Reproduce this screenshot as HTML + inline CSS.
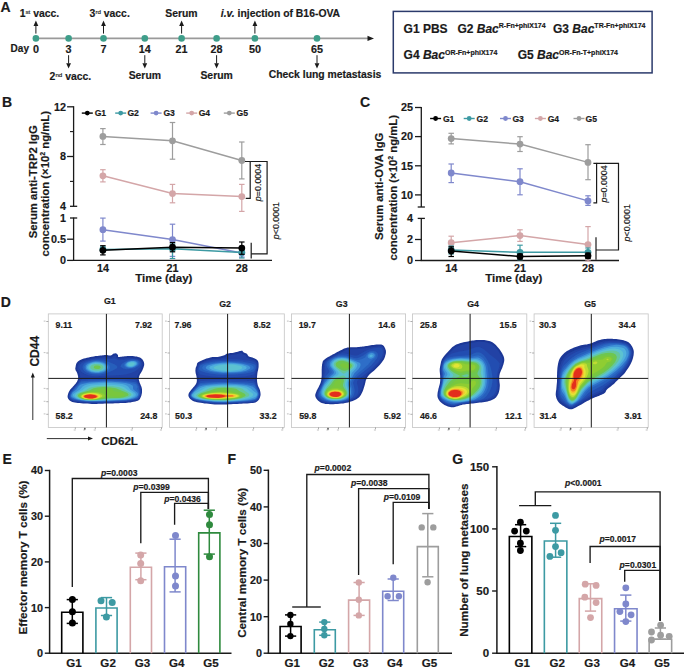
<!DOCTYPE html>
<html><head><meta charset="utf-8"><style>
html,body{margin:0;padding:0;background:#fff;}
svg{display:block;}
text{font-family:"Liberation Sans",sans-serif;font-weight:bold;fill:#1a1a1a;stroke:#1a1a1a;stroke-width:0.18px;}
</style></head><body>
<svg width="685" height="669" viewBox="0 0 685 669">
<defs><filter id="bl" x="-10%" y="-10%" width="120%" height="120%"><feGaussianBlur stdDeviation="0.55"/></filter></defs>
<rect width="685" height="669" fill="#fff"/>
<text x="0.60" y="11.50" font-size="14" text-anchor="start" >A</text>
<line x1="35.90" y1="38.40" x2="369.00" y2="38.40" stroke="#9a9a9a" stroke-width="1.6" />
<polygon points="374.00,38.40 367.50,35.80 367.50,41.00" fill="#1a1a1a"/>
<circle cx="35.90" cy="38.40" r="3.3" fill="#3e9e8a"/>
<text x="35.90" y="53.20" font-size="10.8" text-anchor="middle" >0</text>
<circle cx="68.60" cy="38.40" r="3.3" fill="#3e9e8a"/>
<text x="68.60" y="53.20" font-size="10.8" text-anchor="middle" >3</text>
<circle cx="103.50" cy="38.40" r="3.3" fill="#3e9e8a"/>
<text x="103.50" y="53.20" font-size="10.8" text-anchor="middle" >7</text>
<circle cx="144.80" cy="38.40" r="3.3" fill="#3e9e8a"/>
<text x="144.80" y="53.20" font-size="10.8" text-anchor="middle" >14</text>
<circle cx="181.60" cy="38.40" r="3.3" fill="#3e9e8a"/>
<text x="181.60" y="53.20" font-size="10.8" text-anchor="middle" >21</text>
<circle cx="216.60" cy="38.40" r="3.3" fill="#3e9e8a"/>
<text x="216.60" y="53.20" font-size="10.8" text-anchor="middle" >28</text>
<circle cx="254.90" cy="38.40" r="3.3" fill="#3e9e8a"/>
<text x="254.90" y="53.20" font-size="10.8" text-anchor="middle" >50</text>
<circle cx="317.00" cy="38.40" r="3.3" fill="#3e9e8a"/>
<text x="317.00" y="53.20" font-size="10.8" text-anchor="middle" >65</text>
<text x="10.60" y="52.40" font-size="10" text-anchor="start" >Day</text>
<line x1="35.90" y1="33.60" x2="35.90" y2="25.00" stroke="#1a1a1a" stroke-width="1.0" />
<polygon points="35.90,20.60 33.50,26.00 38.30,26.00" fill="#1a1a1a"/>
<line x1="68.60" y1="55.20" x2="68.60" y2="63.50" stroke="#1a1a1a" stroke-width="1.0" />
<polygon points="68.60,68.60 66.20,63.20 71.00,63.20" fill="#1a1a1a"/>
<line x1="103.50" y1="33.60" x2="103.50" y2="25.00" stroke="#1a1a1a" stroke-width="1.0" />
<polygon points="103.50,20.60 101.10,26.00 105.90,26.00" fill="#1a1a1a"/>
<line x1="144.80" y1="55.20" x2="144.80" y2="63.50" stroke="#1a1a1a" stroke-width="1.0" />
<polygon points="144.80,68.60 142.40,63.20 147.20,63.20" fill="#1a1a1a"/>
<line x1="181.60" y1="33.60" x2="181.60" y2="25.00" stroke="#1a1a1a" stroke-width="1.0" />
<polygon points="181.60,20.60 179.20,26.00 184.00,26.00" fill="#1a1a1a"/>
<line x1="216.60" y1="55.20" x2="216.60" y2="63.50" stroke="#1a1a1a" stroke-width="1.0" />
<polygon points="216.60,68.60 214.20,63.20 219.00,63.20" fill="#1a1a1a"/>
<line x1="254.90" y1="33.60" x2="254.90" y2="25.00" stroke="#1a1a1a" stroke-width="1.0" />
<polygon points="254.90,20.60 252.50,26.00 257.30,26.00" fill="#1a1a1a"/>
<line x1="317.00" y1="55.20" x2="317.00" y2="63.50" stroke="#1a1a1a" stroke-width="1.0" />
<polygon points="317.00,68.60 314.60,63.20 319.40,63.20" fill="#1a1a1a"/>
<text x="19.70" y="17.30" font-size="10.4" text-anchor="start" >1<tspan font-size="6.2" dy="-2.9" style="font-weight:normal">st</tspan><tspan dy="2.9"> vacc.</tspan></text>
<text x="89.60" y="17.30" font-size="10.4" text-anchor="start" >3<tspan font-size="6.2" dy="-2.9" style="font-weight:normal">rd</tspan><tspan dy="2.9"> vacc.</tspan></text>
<text x="181.40" y="17.30" font-size="10.4" text-anchor="middle" >Serum</text>
<text x="220.80" y="17.20" font-size="10.4" text-anchor="start" ><tspan font-style="italic">i.v.</tspan> injection of B16-OVA</text>
<text x="49.60" y="79.50" font-size="10.4" text-anchor="start" >2<tspan font-size="6.2" dy="-2.9" style="font-weight:normal">nd</tspan><tspan dy="2.9"> vacc.</tspan></text>
<text x="144.80" y="79.00" font-size="10.4" text-anchor="middle" >Serum</text>
<text x="216.60" y="79.00" font-size="10.4" text-anchor="middle" >Serum</text>
<text x="325.00" y="78.00" font-size="10.4" text-anchor="middle" >Check lung metastasis</text>
<rect x="393.30" y="11.40" width="258.80" height="61.50" stroke="#2b3a6b" stroke-width="1.5" fill="none"/>
<text x="403.60" y="32.80" font-size="12" text-anchor="start" >G1 PBS</text>
<text x="457.40" y="32.80" font-size="12" text-anchor="start" >G2 <tspan font-style="italic">Bac</tspan><tspan font-size="7.0" dy="-4.6">R-Fn+phiX174</tspan></text>
<text x="553.00" y="32.80" font-size="12" text-anchor="start" >G3 <tspan font-style="italic">Bac</tspan><tspan font-size="7.0" dy="-4.6">TR-Fn+phiX174</tspan></text>
<text x="403.60" y="59.10" font-size="12" text-anchor="start" >G4 <tspan font-style="italic">Bac</tspan><tspan font-size="7.0" dy="-4.6">OR-Fn+phiX174</tspan></text>
<text x="517.70" y="59.10" font-size="12" text-anchor="start" >G5 <tspan font-style="italic">Bac</tspan><tspan font-size="7.0" dy="-4.6">OR-Fn-T+phiX174</tspan></text>
<text x="2.00" y="107.30" font-size="14" text-anchor="start" >B</text>
<line x1="73.60" y1="106.20" x2="73.60" y2="206.30" stroke="#1a1a1a" stroke-width="1.3" />
<line x1="73.60" y1="217.60" x2="73.60" y2="261.00" stroke="#1a1a1a" stroke-width="1.3" />
<line x1="73.00" y1="260.40" x2="272.00" y2="260.40" stroke="#1a1a1a" stroke-width="1.3" />
<line x1="67.10" y1="106.80" x2="73.60" y2="106.80" stroke="#1a1a1a" stroke-width="1.3" />
<text x="66.00" y="110.60" font-size="10.8" text-anchor="end" >12</text>
<line x1="67.10" y1="156.50" x2="73.60" y2="156.50" stroke="#1a1a1a" stroke-width="1.3" />
<text x="66.00" y="160.30" font-size="10.8" text-anchor="end" >8</text>
<line x1="70.00" y1="206.30" x2="77.20" y2="206.30" stroke="#1a1a1a" stroke-width="1.3" />
<text x="66.00" y="210.10" font-size="10.8" text-anchor="end" >4</text>
<line x1="70.00" y1="218.00" x2="77.20" y2="218.00" stroke="#1a1a1a" stroke-width="1.3" />
<text x="66.00" y="221.80" font-size="10.8" text-anchor="end" >1</text>
<line x1="67.10" y1="239.20" x2="73.60" y2="239.20" stroke="#1a1a1a" stroke-width="1.3" />
<text x="66.00" y="243.00" font-size="10.8" text-anchor="end" >0.5</text>
<line x1="67.10" y1="260.40" x2="73.60" y2="260.40" stroke="#1a1a1a" stroke-width="1.3" />
<text x="66.00" y="264.20" font-size="10.8" text-anchor="end" >0</text>
<line x1="70.00" y1="131.60" x2="73.60" y2="131.60" stroke="#1a1a1a" stroke-width="1.1" />
<line x1="70.00" y1="181.40" x2="73.60" y2="181.40" stroke="#1a1a1a" stroke-width="1.1" />
<line x1="81.80" y1="113.10" x2="92.80" y2="113.10" stroke="#000000" stroke-width="1.4" />
<circle cx="87.30" cy="113.10" r="2.4" fill="#000000"/>
<text x="94.70" y="116.10" font-size="8.6" text-anchor="start" >G1</text>
<line x1="115.20" y1="113.10" x2="126.20" y2="113.10" stroke="#3d9aa3" stroke-width="1.4" />
<circle cx="120.70" cy="113.10" r="2.4" fill="#3d9aa3"/>
<text x="127.40" y="116.10" font-size="8.6" text-anchor="start" >G2</text>
<line x1="150.60" y1="113.10" x2="161.60" y2="113.10" stroke="#7f88cc" stroke-width="1.4" />
<circle cx="156.10" cy="113.10" r="2.4" fill="#7f88cc"/>
<text x="163.40" y="116.10" font-size="8.6" text-anchor="start" >G3</text>
<line x1="186.20" y1="113.10" x2="197.20" y2="113.10" stroke="#d4a6a8" stroke-width="1.4" />
<circle cx="191.70" cy="113.10" r="2.4" fill="#d4a6a8"/>
<text x="198.70" y="116.10" font-size="8.6" text-anchor="start" >G4</text>
<line x1="223.80" y1="113.10" x2="234.80" y2="113.10" stroke="#9d9d9d" stroke-width="1.4" />
<circle cx="229.30" cy="113.10" r="2.4" fill="#9d9d9d"/>
<text x="236.60" y="116.10" font-size="8.6" text-anchor="start" >G5</text>
<text x="102.90" y="271.60" font-size="10.8" text-anchor="middle" >14</text>
<text x="172.50" y="271.60" font-size="10.8" text-anchor="middle" >21</text>
<text x="241.80" y="271.60" font-size="10.8" text-anchor="middle" >28</text>
<text x="163.80" y="282.40" font-size="11.5" text-anchor="middle" >Time (day)</text>
<text x="37.40" y="181.80" font-size="11.3" text-anchor="middle" transform="rotate(-90 37.40 181.80)" >Serum anti-TRP2 IgG</text>
<text x="48.90" y="183.80" font-size="11.3" text-anchor="middle" transform="rotate(-90 48.90 183.80)" >concentration (×10<tspan font-size="7" dy="-4.2">2</tspan><tspan dy="4.2"> ng/mL)</tspan></text>
<path d="M102.90,136.40 L172.50,140.80 L241.80,160.50" stroke="#9d9d9d" stroke-width="1.5" fill="none" />
<line x1="102.90" y1="128.60" x2="102.90" y2="144.50" stroke="#9d9d9d" stroke-width="1.2" />
<line x1="100.15" y1="128.60" x2="105.65" y2="128.60" stroke="#9d9d9d" stroke-width="1.2" />
<line x1="100.15" y1="144.50" x2="105.65" y2="144.50" stroke="#9d9d9d" stroke-width="1.2" />
<line x1="172.50" y1="122.50" x2="172.50" y2="159.20" stroke="#9d9d9d" stroke-width="1.2" />
<line x1="169.75" y1="122.50" x2="175.25" y2="122.50" stroke="#9d9d9d" stroke-width="1.2" />
<line x1="169.75" y1="159.20" x2="175.25" y2="159.20" stroke="#9d9d9d" stroke-width="1.2" />
<line x1="241.80" y1="142.00" x2="241.80" y2="178.90" stroke="#9d9d9d" stroke-width="1.2" />
<line x1="239.05" y1="142.00" x2="244.55" y2="142.00" stroke="#9d9d9d" stroke-width="1.2" />
<line x1="239.05" y1="178.90" x2="244.55" y2="178.90" stroke="#9d9d9d" stroke-width="1.2" />
<circle cx="102.90" cy="136.40" r="3.4" fill="#9d9d9d"/>
<circle cx="172.50" cy="140.80" r="3.4" fill="#9d9d9d"/>
<circle cx="241.80" cy="160.50" r="3.4" fill="#9d9d9d"/>
<path d="M102.90,175.80 L172.50,193.60 L241.80,196.60" stroke="#d4a6a8" stroke-width="1.5" fill="none" />
<line x1="102.90" y1="169.70" x2="102.90" y2="181.90" stroke="#d4a6a8" stroke-width="1.2" />
<line x1="100.15" y1="169.70" x2="105.65" y2="169.70" stroke="#d4a6a8" stroke-width="1.2" />
<line x1="100.15" y1="181.90" x2="105.65" y2="181.90" stroke="#d4a6a8" stroke-width="1.2" />
<line x1="172.50" y1="184.40" x2="172.50" y2="202.80" stroke="#d4a6a8" stroke-width="1.2" />
<line x1="169.75" y1="184.40" x2="175.25" y2="184.40" stroke="#d4a6a8" stroke-width="1.2" />
<line x1="169.75" y1="202.80" x2="175.25" y2="202.80" stroke="#d4a6a8" stroke-width="1.2" />
<line x1="241.80" y1="184.40" x2="241.80" y2="211.40" stroke="#d4a6a8" stroke-width="1.2" />
<line x1="239.05" y1="184.40" x2="244.55" y2="184.40" stroke="#d4a6a8" stroke-width="1.2" />
<line x1="239.05" y1="211.40" x2="244.55" y2="211.40" stroke="#d4a6a8" stroke-width="1.2" />
<circle cx="102.90" cy="175.80" r="3.4" fill="#d4a6a8"/>
<circle cx="172.50" cy="193.60" r="3.4" fill="#d4a6a8"/>
<circle cx="241.80" cy="196.60" r="3.4" fill="#d4a6a8"/>
<path d="M102.90,229.70 L172.50,239.60 L241.80,253.00" stroke="#7f88cc" stroke-width="1.5" fill="none" />
<line x1="102.90" y1="218.10" x2="102.90" y2="241.10" stroke="#7f88cc" stroke-width="1.2" />
<line x1="100.15" y1="218.10" x2="105.65" y2="218.10" stroke="#7f88cc" stroke-width="1.2" />
<line x1="100.15" y1="241.10" x2="105.65" y2="241.10" stroke="#7f88cc" stroke-width="1.2" />
<line x1="172.50" y1="224.20" x2="172.50" y2="256.40" stroke="#7f88cc" stroke-width="1.2" />
<line x1="169.75" y1="224.20" x2="175.25" y2="224.20" stroke="#7f88cc" stroke-width="1.2" />
<line x1="169.75" y1="256.40" x2="175.25" y2="256.40" stroke="#7f88cc" stroke-width="1.2" />
<line x1="241.80" y1="249.00" x2="241.80" y2="257.00" stroke="#7f88cc" stroke-width="1.2" />
<line x1="239.05" y1="249.00" x2="244.55" y2="249.00" stroke="#7f88cc" stroke-width="1.2" />
<line x1="239.05" y1="257.00" x2="244.55" y2="257.00" stroke="#7f88cc" stroke-width="1.2" />
<circle cx="102.90" cy="229.70" r="3.4" fill="#7f88cc"/>
<circle cx="172.50" cy="239.60" r="3.4" fill="#7f88cc"/>
<circle cx="241.80" cy="253.00" r="3.4" fill="#7f88cc"/>
<path d="M102.90,249.40 L172.50,248.80 L241.80,252.40" stroke="#3d9aa3" stroke-width="1.5" fill="none" />
<line x1="102.90" y1="247.00" x2="102.90" y2="252.00" stroke="#3d9aa3" stroke-width="1.2" />
<line x1="100.15" y1="247.00" x2="105.65" y2="247.00" stroke="#3d9aa3" stroke-width="1.2" />
<line x1="100.15" y1="252.00" x2="105.65" y2="252.00" stroke="#3d9aa3" stroke-width="1.2" />
<line x1="172.50" y1="244.00" x2="172.50" y2="258.50" stroke="#3d9aa3" stroke-width="1.2" />
<line x1="169.75" y1="244.00" x2="175.25" y2="244.00" stroke="#3d9aa3" stroke-width="1.2" />
<line x1="169.75" y1="258.50" x2="175.25" y2="258.50" stroke="#3d9aa3" stroke-width="1.2" />
<line x1="241.80" y1="248.00" x2="241.80" y2="258.00" stroke="#3d9aa3" stroke-width="1.2" />
<line x1="239.05" y1="248.00" x2="244.55" y2="248.00" stroke="#3d9aa3" stroke-width="1.2" />
<line x1="239.05" y1="258.00" x2="244.55" y2="258.00" stroke="#3d9aa3" stroke-width="1.2" />
<circle cx="102.90" cy="249.40" r="3.4" fill="#3d9aa3"/>
<circle cx="172.50" cy="248.80" r="3.4" fill="#3d9aa3"/>
<circle cx="241.80" cy="252.40" r="3.4" fill="#3d9aa3"/>
<path d="M102.90,250.30 L172.50,247.20 L241.80,248.10" stroke="#000000" stroke-width="1.5" fill="none" />
<line x1="102.90" y1="245.70" x2="102.90" y2="254.90" stroke="#000000" stroke-width="1.2" />
<line x1="100.15" y1="245.70" x2="105.65" y2="245.70" stroke="#000000" stroke-width="1.2" />
<line x1="100.15" y1="254.90" x2="105.65" y2="254.90" stroke="#000000" stroke-width="1.2" />
<line x1="172.50" y1="242.60" x2="172.50" y2="251.80" stroke="#000000" stroke-width="1.2" />
<line x1="169.75" y1="242.60" x2="175.25" y2="242.60" stroke="#000000" stroke-width="1.2" />
<line x1="169.75" y1="251.80" x2="175.25" y2="251.80" stroke="#000000" stroke-width="1.2" />
<line x1="241.80" y1="242.00" x2="241.80" y2="254.30" stroke="#000000" stroke-width="1.2" />
<line x1="239.05" y1="242.00" x2="244.55" y2="242.00" stroke="#000000" stroke-width="1.2" />
<line x1="239.05" y1="254.30" x2="244.55" y2="254.30" stroke="#000000" stroke-width="1.2" />
<circle cx="102.90" cy="250.30" r="3.4" fill="#000000"/>
<circle cx="172.50" cy="247.20" r="3.4" fill="#000000"/>
<circle cx="241.80" cy="248.10" r="3.4" fill="#000000"/>
<path d="M245.0,161.5 H250.2 V198.4 H245.7" stroke="#1a1a1a" stroke-width="1.2" fill="none" />
<path d="M250.2,161.5 H267.1 V253.8 H251.2" stroke="#1a1a1a" stroke-width="1.2" fill="none" />
<line x1="251.20" y1="242.80" x2="251.20" y2="258.40" stroke="#1a1a1a" stroke-width="1.2" />
<text x="260.90" y="182.50" font-size="8.9" text-anchor="middle" transform="rotate(-90 260.90 182.50)" style="font-weight:normal"><tspan font-style="italic">p</tspan>=0.0004</text>
<text x="279.40" y="220.60" font-size="8.9" text-anchor="middle" transform="rotate(-90 279.40 220.60)" style="font-weight:normal"><tspan font-style="italic">p</tspan>&lt;0.0001</text>
<text x="360.00" y="107.30" font-size="14" text-anchor="start" >C</text>
<line x1="421.30" y1="107.00" x2="421.30" y2="207.00" stroke="#1a1a1a" stroke-width="1.3" />
<line x1="421.30" y1="218.00" x2="421.30" y2="261.00" stroke="#1a1a1a" stroke-width="1.3" />
<line x1="420.70" y1="260.50" x2="619.00" y2="260.50" stroke="#1a1a1a" stroke-width="1.3" />
<line x1="415.00" y1="107.50" x2="421.30" y2="107.50" stroke="#1a1a1a" stroke-width="1.3" />
<text x="413.10" y="111.30" font-size="10.8" text-anchor="end" >25</text>
<line x1="415.00" y1="136.60" x2="421.30" y2="136.60" stroke="#1a1a1a" stroke-width="1.3" />
<text x="413.10" y="140.40" font-size="10.8" text-anchor="end" >20</text>
<line x1="415.00" y1="165.80" x2="421.30" y2="165.80" stroke="#1a1a1a" stroke-width="1.3" />
<text x="413.10" y="169.60" font-size="10.8" text-anchor="end" >15</text>
<line x1="415.00" y1="194.90" x2="421.30" y2="194.90" stroke="#1a1a1a" stroke-width="1.3" />
<text x="413.10" y="198.70" font-size="10.8" text-anchor="end" >10</text>
<line x1="417.70" y1="207.00" x2="424.90" y2="207.00" stroke="#1a1a1a" stroke-width="1.3" />
<line x1="417.70" y1="218.40" x2="424.90" y2="218.40" stroke="#1a1a1a" stroke-width="1.3" />
<text x="413.10" y="222.20" font-size="10.8" text-anchor="end" >4</text>
<line x1="415.00" y1="239.50" x2="421.30" y2="239.50" stroke="#1a1a1a" stroke-width="1.3" />
<text x="413.10" y="243.30" font-size="10.8" text-anchor="end" >2</text>
<line x1="415.00" y1="260.50" x2="421.30" y2="260.50" stroke="#1a1a1a" stroke-width="1.3" />
<text x="413.10" y="264.30" font-size="10.8" text-anchor="end" >0</text>
<line x1="430.10" y1="118.50" x2="441.10" y2="118.50" stroke="#000000" stroke-width="1.4" />
<circle cx="435.60" cy="118.50" r="2.4" fill="#000000"/>
<text x="442.90" y="121.50" font-size="8.6" text-anchor="start" >G1</text>
<line x1="463.70" y1="118.50" x2="474.70" y2="118.50" stroke="#3d9aa3" stroke-width="1.4" />
<circle cx="469.20" cy="118.50" r="2.4" fill="#3d9aa3"/>
<text x="476.50" y="121.50" font-size="8.6" text-anchor="start" >G2</text>
<line x1="500.00" y1="118.50" x2="511.00" y2="118.50" stroke="#7f88cc" stroke-width="1.4" />
<circle cx="505.50" cy="118.50" r="2.4" fill="#7f88cc"/>
<text x="512.40" y="121.50" font-size="8.6" text-anchor="start" >G3</text>
<line x1="534.90" y1="118.50" x2="545.90" y2="118.50" stroke="#d4a6a8" stroke-width="1.4" />
<circle cx="540.40" cy="118.50" r="2.4" fill="#d4a6a8"/>
<text x="547.70" y="121.50" font-size="8.6" text-anchor="start" >G4</text>
<line x1="573.50" y1="118.50" x2="584.50" y2="118.50" stroke="#9d9d9d" stroke-width="1.4" />
<circle cx="579.00" cy="118.50" r="2.4" fill="#9d9d9d"/>
<text x="585.60" y="121.50" font-size="8.6" text-anchor="start" >G5</text>
<text x="451.20" y="271.60" font-size="10.8" text-anchor="middle" >14</text>
<text x="520.00" y="271.60" font-size="10.8" text-anchor="middle" >21</text>
<text x="588.00" y="271.60" font-size="10.8" text-anchor="middle" >28</text>
<text x="513.80" y="282.40" font-size="11.5" text-anchor="middle" >Time (day)</text>
<text x="382.60" y="186.30" font-size="11.3" text-anchor="middle" transform="rotate(-90 382.60 186.30)" >Serum anti-OVA IgG</text>
<text x="397.40" y="187.80" font-size="11.3" text-anchor="middle" transform="rotate(-90 397.40 187.80)" >concentration (×10<tspan font-size="7" dy="-4.2">2</tspan><tspan dy="4.2"> ng/mL)</tspan></text>
<path d="M451.20,138.60 L520.00,144.10 L588.00,162.40" stroke="#9d9d9d" stroke-width="1.5" fill="none" />
<line x1="451.20" y1="133.30" x2="451.20" y2="143.90" stroke="#9d9d9d" stroke-width="1.2" />
<line x1="448.45" y1="133.30" x2="453.95" y2="133.30" stroke="#9d9d9d" stroke-width="1.2" />
<line x1="448.45" y1="143.90" x2="453.95" y2="143.90" stroke="#9d9d9d" stroke-width="1.2" />
<line x1="520.00" y1="136.70" x2="520.00" y2="151.50" stroke="#9d9d9d" stroke-width="1.2" />
<line x1="517.25" y1="136.70" x2="522.75" y2="136.70" stroke="#9d9d9d" stroke-width="1.2" />
<line x1="517.25" y1="151.50" x2="522.75" y2="151.50" stroke="#9d9d9d" stroke-width="1.2" />
<line x1="588.00" y1="144.70" x2="588.00" y2="179.70" stroke="#9d9d9d" stroke-width="1.2" />
<line x1="585.25" y1="144.70" x2="590.75" y2="144.70" stroke="#9d9d9d" stroke-width="1.2" />
<line x1="585.25" y1="179.70" x2="590.75" y2="179.70" stroke="#9d9d9d" stroke-width="1.2" />
<circle cx="451.20" cy="138.60" r="3.4" fill="#9d9d9d"/>
<circle cx="520.00" cy="144.10" r="3.4" fill="#9d9d9d"/>
<circle cx="588.00" cy="162.40" r="3.4" fill="#9d9d9d"/>
<path d="M451.20,173.00 L520.00,181.70 L588.00,200.90" stroke="#7f88cc" stroke-width="1.5" fill="none" />
<line x1="451.20" y1="164.00" x2="451.20" y2="182.60" stroke="#7f88cc" stroke-width="1.2" />
<line x1="448.45" y1="164.00" x2="453.95" y2="164.00" stroke="#7f88cc" stroke-width="1.2" />
<line x1="448.45" y1="182.60" x2="453.95" y2="182.60" stroke="#7f88cc" stroke-width="1.2" />
<line x1="520.00" y1="168.80" x2="520.00" y2="194.80" stroke="#7f88cc" stroke-width="1.2" />
<line x1="517.25" y1="168.80" x2="522.75" y2="168.80" stroke="#7f88cc" stroke-width="1.2" />
<line x1="517.25" y1="194.80" x2="522.75" y2="194.80" stroke="#7f88cc" stroke-width="1.2" />
<line x1="588.00" y1="195.80" x2="588.00" y2="205.40" stroke="#7f88cc" stroke-width="1.2" />
<line x1="585.25" y1="195.80" x2="590.75" y2="195.80" stroke="#7f88cc" stroke-width="1.2" />
<line x1="585.25" y1="205.40" x2="590.75" y2="205.40" stroke="#7f88cc" stroke-width="1.2" />
<circle cx="451.20" cy="173.00" r="3.4" fill="#7f88cc"/>
<circle cx="520.00" cy="181.70" r="3.4" fill="#7f88cc"/>
<circle cx="588.00" cy="200.90" r="3.4" fill="#7f88cc"/>
<path d="M451.20,242.70 L520.00,235.60 L588.00,244.60" stroke="#d4a6a8" stroke-width="1.5" fill="none" />
<line x1="451.20" y1="236.20" x2="451.20" y2="248.00" stroke="#d4a6a8" stroke-width="1.2" />
<line x1="448.45" y1="236.20" x2="453.95" y2="236.20" stroke="#d4a6a8" stroke-width="1.2" />
<line x1="448.45" y1="248.00" x2="453.95" y2="248.00" stroke="#d4a6a8" stroke-width="1.2" />
<line x1="520.00" y1="229.80" x2="520.00" y2="241.40" stroke="#d4a6a8" stroke-width="1.2" />
<line x1="517.25" y1="229.80" x2="522.75" y2="229.80" stroke="#d4a6a8" stroke-width="1.2" />
<line x1="517.25" y1="241.40" x2="522.75" y2="241.40" stroke="#d4a6a8" stroke-width="1.2" />
<line x1="588.00" y1="226.60" x2="588.00" y2="261.00" stroke="#d4a6a8" stroke-width="1.2" />
<line x1="585.25" y1="226.60" x2="590.75" y2="226.60" stroke="#d4a6a8" stroke-width="1.2" />
<line x1="585.25" y1="261.00" x2="590.75" y2="261.00" stroke="#d4a6a8" stroke-width="1.2" />
<circle cx="451.20" cy="242.70" r="3.4" fill="#d4a6a8"/>
<circle cx="520.00" cy="235.60" r="3.4" fill="#d4a6a8"/>
<circle cx="588.00" cy="244.60" r="3.4" fill="#d4a6a8"/>
<path d="M451.20,250.00 L520.00,252.30 L588.00,252.30" stroke="#3d9aa3" stroke-width="1.5" fill="none" />
<line x1="451.20" y1="246.00" x2="451.20" y2="254.00" stroke="#3d9aa3" stroke-width="1.2" />
<line x1="448.45" y1="246.00" x2="453.95" y2="246.00" stroke="#3d9aa3" stroke-width="1.2" />
<line x1="448.45" y1="254.00" x2="453.95" y2="254.00" stroke="#3d9aa3" stroke-width="1.2" />
<line x1="520.00" y1="245.20" x2="520.00" y2="259.70" stroke="#3d9aa3" stroke-width="1.2" />
<line x1="517.25" y1="245.20" x2="522.75" y2="245.20" stroke="#3d9aa3" stroke-width="1.2" />
<line x1="517.25" y1="259.70" x2="522.75" y2="259.70" stroke="#3d9aa3" stroke-width="1.2" />
<line x1="588.00" y1="248.00" x2="588.00" y2="256.00" stroke="#3d9aa3" stroke-width="1.2" />
<line x1="585.25" y1="248.00" x2="590.75" y2="248.00" stroke="#3d9aa3" stroke-width="1.2" />
<line x1="585.25" y1="256.00" x2="590.75" y2="256.00" stroke="#3d9aa3" stroke-width="1.2" />
<circle cx="451.20" cy="250.00" r="3.4" fill="#3d9aa3"/>
<circle cx="520.00" cy="252.30" r="3.4" fill="#3d9aa3"/>
<circle cx="588.00" cy="252.30" r="3.4" fill="#3d9aa3"/>
<path d="M451.20,251.00 L520.00,256.50 L588.00,255.80" stroke="#000000" stroke-width="1.5" fill="none" />
<line x1="451.20" y1="246.80" x2="451.20" y2="256.50" stroke="#000000" stroke-width="1.2" />
<line x1="448.45" y1="246.80" x2="453.95" y2="246.80" stroke="#000000" stroke-width="1.2" />
<line x1="448.45" y1="256.50" x2="453.95" y2="256.50" stroke="#000000" stroke-width="1.2" />
<line x1="520.00" y1="254.00" x2="520.00" y2="259.00" stroke="#000000" stroke-width="1.2" />
<line x1="517.25" y1="254.00" x2="522.75" y2="254.00" stroke="#000000" stroke-width="1.2" />
<line x1="517.25" y1="259.00" x2="522.75" y2="259.00" stroke="#000000" stroke-width="1.2" />
<line x1="588.00" y1="253.00" x2="588.00" y2="258.50" stroke="#000000" stroke-width="1.2" />
<line x1="585.25" y1="253.00" x2="590.75" y2="253.00" stroke="#000000" stroke-width="1.2" />
<line x1="585.25" y1="258.50" x2="590.75" y2="258.50" stroke="#000000" stroke-width="1.2" />
<circle cx="451.20" cy="251.00" r="3.4" fill="#000000"/>
<circle cx="520.00" cy="256.50" r="3.4" fill="#000000"/>
<circle cx="588.00" cy="255.80" r="3.4" fill="#000000"/>
<path d="M593.4,163.4 H596.6 V202.9 H593.4" stroke="#1a1a1a" stroke-width="1.2" fill="none" />
<path d="M596.6,163.4 H618.5 V250.0 H596.0" stroke="#1a1a1a" stroke-width="1.2" fill="none" />
<line x1="596.00" y1="237.20" x2="596.00" y2="259.70" stroke="#1a1a1a" stroke-width="1.2" />
<text x="606.80" y="183.90" font-size="8.9" text-anchor="middle" transform="rotate(-90 606.80 183.90)" style="font-weight:normal"><tspan font-style="italic">p</tspan>=0.0004</text>
<text x="629.90" y="222.80" font-size="8.9" text-anchor="middle" transform="rotate(-90 629.90 222.80)" style="font-weight:normal"><tspan font-style="italic">p</tspan>&lt;0.0001</text>
<text x="0.80" y="307.30" font-size="14" text-anchor="start" >D</text>
<rect x="48.30" y="313.90" width="113.90" height="113.50" stroke="#c4c4c4" stroke-width="0.8" fill="#fff"/>
<path d="M75.5,367.3 L75.6,366.7 L75.7,365.9 L75.9,365.1 L76.1,364.3 L76.4,363.5 L76.8,362.8 L77.3,362.2 L77.9,361.6 L78.6,361.1 L79.3,360.6 L80.3,360.1 L81.3,359.6 L82.5,359.1 L83.9,358.6 L85.4,358.2 L87.0,357.8 L88.7,357.4 L90.3,357.0 L92.0,356.7 L93.8,356.4 L95.6,356.1 L97.4,355.9 L99.0,355.7 L100.5,355.5 L101.7,355.4 L102.8,355.3 L103.8,355.2 L104.6,355.1 L105.5,355.1 L106.3,355.1 L107.1,355.1 L108.0,355.3 L108.8,355.4 L109.5,355.5 L110.2,355.5 L110.8,355.5 L111.3,355.3 L111.8,355.0 L112.2,354.7 L112.6,354.3 L113.0,354.0 L113.4,353.8 L113.8,353.6 L114.3,353.5 L114.7,353.4 L115.2,353.3 L115.6,353.3 L116.0,353.4 L116.4,353.6 L116.7,353.8 L117.1,354.1 L117.4,354.4 L117.7,354.8 L117.9,355.1 L118.0,355.4 L118.0,355.8 L118.0,356.2 L118.0,356.5 L118.1,356.8 L118.5,357.0 L119.1,357.0 L119.8,357.0 L120.7,356.8 L121.6,356.7 L122.6,356.5 L123.7,356.4 L124.8,356.3 L126.1,356.2 L127.4,356.1 L128.7,356.0 L130.1,356.0 L131.4,356.0 L132.7,356.1 L134.1,356.2 L135.5,356.4 L136.8,356.6 L138.0,356.9 L139.1,357.2 L140.0,357.6 L140.7,358.0 L141.4,358.5 L142.0,359.0 L142.5,359.6 L142.9,360.2 L143.3,360.8 L143.6,361.5 L143.9,362.3 L144.1,363.0 L144.2,363.9 L144.2,364.7 L144.1,365.6 L143.8,366.6 L143.5,367.6 L143.1,368.6 L142.7,369.6 L142.3,370.5 L141.9,371.3 L141.4,372.1 L140.9,372.9 L140.5,373.6 L140.0,374.3 L139.7,375.0 L139.4,375.7 L139.2,376.3 L139.0,376.9 L138.9,377.6 L138.8,378.2 L138.8,378.8 L138.8,379.4 L138.9,380.0 L139.1,380.7 L139.3,381.3 L139.5,382.0 L139.7,382.7 L140.0,383.5 L140.4,384.3 L140.7,385.2 L141.1,386.0 L141.5,386.9 L141.7,387.8 L141.9,388.7 L142.0,389.6 L142.0,390.4 L142.0,391.3 L142.0,392.2 L141.9,393.0 L141.8,393.8 L141.6,394.6 L141.4,395.4 L141.2,396.1 L140.9,396.8 L140.6,397.5 L140.3,398.1 L140.0,398.7 L139.7,399.3 L139.2,399.8 L138.6,400.3 L137.8,400.7 L136.7,401.1 L135.3,401.5 L133.8,401.8 L132.1,402.1 L130.4,402.4 L128.8,402.6 L127.2,402.8 L125.5,402.9 L123.8,403.0 L122.1,403.1 L120.3,403.1 L118.5,403.2 L116.7,403.3 L114.8,403.3 L112.9,403.4 L111.0,403.4 L109.0,403.4 L107.0,403.5 L104.9,403.6 L102.8,403.7 L100.6,403.8 L98.4,403.8 L96.3,403.9 L94.1,403.9 L91.9,403.9 L89.7,403.8 L87.5,403.6 L85.3,403.5 L83.2,403.4 L81.3,403.2 L79.5,403.1 L77.8,402.9 L76.3,402.8 L74.8,402.6 L73.5,402.3 L72.3,402.0 L71.3,401.6 L70.4,401.1 L69.7,400.5 L69.1,399.9 L68.6,399.3 L68.2,398.7 L67.9,398.1 L67.7,397.5 L67.6,396.9 L67.6,396.2 L67.7,395.6 L67.8,394.9 L68.0,394.2 L68.2,393.5 L68.5,392.7 L68.8,391.9 L69.2,391.2 L69.7,390.4 L70.2,389.6 L70.9,388.9 L71.6,388.1 L72.3,387.4 L73.0,386.6 L73.6,385.9 L74.2,385.2 L74.8,384.6 L75.4,383.9 L75.9,383.3 L76.4,382.6 L76.8,382.0 L77.1,381.4 L77.4,380.8 L77.7,380.1 L77.9,379.5 L78.0,378.9 L78.1,378.2 L78.1,377.5 L78.1,376.7 L78.0,376.0 L77.8,375.2 L77.6,374.4 L77.4,373.7 L77.1,373.0 L76.8,372.3 L76.4,371.6 L76.0,371.0 L75.7,370.4 L75.5,369.8 L75.4,369.3 L75.3,368.9 L75.3,368.6 L75.3,368.2 L75.4,367.8Z" fill="rgb(28, 55, 150)"/><g filter="url(#bl)"><path d="M106.6,402.7 L90.4,402.8 L77.1,401.7 L72.4,400.7 L70.4,399.6 L69.3,398.4 L68.7,397.1 L68.7,395.9 L69.4,393.4 L70.4,391.4 L77.9,382.7 L79.9,379.1 L80.1,376.6 L79.8,374.6 L78.9,372.1 L77.3,369.1 L77.5,366.6 L78.6,363.9 L79.8,362.6 L81.9,361.5 L85.4,360.2 L90.1,358.9 L95.6,357.9 L103.9,357.0 L107.1,357.0 L111.1,357.5 L115.4,355.3 L116.1,355.9 L116.3,356.9 L116.9,357.9 L118.6,358.8 L130.6,357.8 L136.6,358.4 L139.1,359.2 L140.4,359.9 L141.4,360.9 L142.2,362.6 L142.5,363.6 L142.5,365.1 L140.9,369.7 L137.8,374.9 L137.1,377.4 L137.5,380.6 L140.4,387.1 L141.2,391.1 L140.8,394.6 L140.3,396.1 L138.9,398.6 L138.0,399.4 L135.6,400.3 L129.1,401.5 L123.4,402.1 L107.4,402.4 L106.6,402.7Z" fill="rgb(32, 67, 165)" fill-rule="evenodd"/><path d="M100.9,376.1 L96.4,376.3 L92.1,375.9 L87.9,375.0 L84.6,373.7 L81.8,371.9 L80.0,369.6 L79.4,367.4 L79.9,365.3 L80.7,364.1 L82.1,363.0 L87.4,360.7 L92.9,359.5 L99.6,358.8 L104.4,358.7 L110.9,359.1 L114.6,358.6 L117.6,360.0 L119.6,360.2 L125.6,359.8 L130.4,359.0 L133.4,359.0 L136.4,359.4 L138.9,360.2 L140.4,361.6 L141.0,362.9 L141.0,364.9 L140.3,366.4 L139.1,368.0 L135.4,371.0 L130.9,373.0 L126.1,374.2 L120.6,375.0 L107.6,375.6 L100.9,376.1ZM100.4,402.2 L90.4,402.2 L86.1,401.9 L77.1,401.0 L74.1,400.4 L71.9,399.6 L69.9,397.9 L69.4,396.9 L69.5,395.1 L70.2,393.1 L71.6,390.9 L80.9,380.2 L82.1,379.4 L96.9,378.5 L110.1,378.4 L121.6,378.8 L135.1,380.0 L136.7,381.6 L139.2,386.1 L140.2,391.1 L140.1,394.4 L139.5,396.1 L138.3,398.1 L136.9,399.1 L133.4,400.1 L126.6,401.1 L116.4,401.7 L100.4,402.2Z" fill="rgb(36, 78, 177)" fill-rule="evenodd"/><path d="M130.1,369.1 L126.6,369.2 L123.4,368.5 L120.9,367.1 L120.5,366.6 L120.6,365.9 L121.8,364.1 L123.9,362.4 L126.6,360.9 L129.4,360.0 L132.4,359.6 L135.1,359.8 L137.8,360.6 L139.1,361.6 L139.6,362.6 L139.6,363.9 L139.0,365.1 L137.9,366.3 L134.4,368.2 L130.1,369.1ZM100.4,374.4 L96.6,374.6 L92.9,374.3 L89.6,373.7 L86.6,372.5 L84.3,370.9 L82.9,369.1 L82.5,367.1 L82.9,365.4 L84.9,363.1 L88.4,361.4 L92.9,360.3 L98.1,359.9 L103.4,360.5 L108.9,362.0 L114.8,364.6 L116.3,365.6 L117.2,366.6 L117.2,367.4 L116.4,368.4 L111.6,371.1 L106.1,373.2 L100.4,374.4ZM100.6,401.6 L90.6,401.8 L83.1,401.2 L75.6,400.1 L72.9,399.4 L71.2,398.4 L70.1,396.9 L70.1,395.1 L70.7,393.4 L72.1,391.3 L79.7,382.6 L81.6,381.3 L91.1,380.4 L102.6,380.0 L113.6,380.1 L124.6,380.7 L135.6,382.2 L136.9,383.4 L138.4,386.1 L139.4,391.1 L139.5,394.4 L138.3,397.1 L137.6,398.0 L136.9,398.4 L133.1,399.5 L126.4,400.6 L116.1,401.2 L100.6,401.6Z" fill="rgb(40, 94, 188)" fill-rule="evenodd"/><path d="M131.4,368.1 L128.1,368.2 L125.4,367.3 L124.6,366.6 L124.0,365.6 L124.0,364.9 L124.4,363.9 L125.4,362.7 L126.9,361.7 L130.9,360.4 L134.9,360.4 L136.5,360.9 L137.7,361.6 L138.3,362.4 L138.5,363.4 L138.2,364.4 L137.5,365.4 L134.9,367.2 L131.4,368.1ZM98.4,373.6 L95.1,373.6 L92.1,373.3 L89.4,372.5 L87.1,371.4 L85.5,370.1 L84.5,368.6 L84.2,366.9 L84.8,365.4 L86.4,363.6 L89.1,362.2 L92.6,361.2 L96.4,360.8 L100.4,361.1 L104.1,361.9 L107.1,363.2 L109.2,364.9 L109.9,366.4 L110.0,367.9 L109.5,369.1 L108.4,370.4 L106.5,371.6 L104.1,372.6 L101.4,373.3 L98.4,373.6ZM100.1,401.4 L90.6,401.4 L83.1,400.9 L77.4,400.0 L73.9,399.1 L71.8,398.1 L70.6,396.6 L70.6,395.4 L71.1,393.9 L71.9,392.4 L79.9,383.5 L80.9,382.8 L84.4,382.2 L92.1,381.4 L100.9,381.0 L110.1,380.9 L119.1,381.3 L126.9,382.1 L132.9,383.2 L136.1,384.3 L137.2,385.9 L137.5,387.1 L136.9,389.1 L138.6,391.7 L139.0,392.9 L138.9,394.1 L138.1,396.3 L137.3,397.4 L136.6,397.9 L133.1,399.0 L126.4,400.2 L100.1,401.4Z" fill="rgb(45, 110, 200)" fill-rule="evenodd"/><path d="M131.9,367.4 L128.9,367.5 L126.6,366.8 L125.4,365.6 L125.3,364.9 L125.6,363.9 L127.6,362.1 L130.9,361.0 L134.1,360.9 L135.6,361.3 L136.6,361.9 L137.2,362.6 L137.4,363.4 L137.2,364.4 L136.7,365.1 L134.6,366.6 L131.9,367.4ZM98.4,372.9 L95.6,372.9 L92.9,372.6 L90.4,372.0 L88.4,371.0 L86.8,369.9 L85.8,368.4 L85.7,366.9 L86.1,365.6 L87.5,364.1 L89.7,362.9 L92.6,362.0 L95.9,361.6 L99.4,361.8 L102.6,362.4 L105.1,363.4 L107.0,364.9 L107.8,366.1 L108.0,367.4 L107.7,368.6 L106.8,369.9 L105.4,370.9 L103.4,371.9 L98.4,372.9ZM97.9,401.1 L90.6,401.1 L86.4,400.9 L77.4,399.5 L74.5,398.6 L72.1,397.3 L71.3,396.4 L71.4,394.9 L72.5,392.6 L76.4,389.6 L78.8,385.9 L80.6,384.6 L84.4,383.5 L89.6,382.6 L103.4,381.8 L111.6,381.8 L119.1,382.3 L125.6,383.1 L129.9,384.1 L131.6,384.9 L132.6,385.6 L133.0,386.4 L133.0,388.4 L133.4,389.4 L137.2,392.6 L138.0,393.9 L137.7,395.6 L136.3,397.1 L133.1,398.4 L128.6,399.5 L122.9,400.1 L97.9,401.1Z" fill="rgb(63, 146, 215)" fill-rule="evenodd"/><path d="M131.1,366.9 L128.9,366.8 L127.2,366.1 L126.5,364.9 L126.9,363.6 L128.6,362.3 L131.4,361.5 L134.1,361.6 L135.9,362.5 L136.2,363.1 L136.3,363.9 L135.5,365.1 L133.6,366.3 L131.1,366.9ZM98.6,372.1 L93.6,372.0 L91.4,371.5 L89.5,370.6 L88.1,369.6 L87.2,368.4 L87.0,367.1 L87.4,365.9 L88.5,364.6 L90.4,363.5 L92.9,362.7 L95.6,362.3 L98.6,362.4 L101.3,362.9 L103.6,363.7 L105.3,364.9 L106.1,365.9 L106.5,367.1 L106.2,368.4 L105.6,369.4 L104.4,370.4 L102.9,371.1 L98.6,372.1ZM95.4,400.9 L86.4,400.6 L78.4,399.2 L75.9,398.3 L74.0,397.1 L72.9,395.9 L72.8,394.6 L73.4,393.7 L74.4,392.9 L79.9,389.6 L82.6,386.5 L85.2,385.1 L88.9,384.1 L93.6,383.4 L105.4,382.8 L117.9,383.4 L122.6,384.1 L125.6,384.9 L128.1,386.4 L130.2,389.4 L134.7,392.6 L135.6,393.6 L135.9,394.4 L135.4,395.9 L133.4,397.3 L130.1,398.5 L126.4,399.3 L121.9,399.7 L95.4,400.9Z" fill="rgb(79, 176, 221)" fill-rule="evenodd"/><path d="M130.9,366.1 L129.4,366.0 L128.2,365.4 L127.9,364.6 L128.4,363.6 L129.6,362.8 L131.6,362.3 L133.4,362.5 L134.5,363.1 L134.7,364.1 L133.9,365.1 L132.4,365.9 L130.9,366.1ZM98.6,371.4 L94.4,371.3 L90.6,370.2 L89.5,369.4 L88.7,368.4 L88.5,367.1 L88.8,366.1 L89.6,365.1 L91.2,364.1 L93.1,363.5 L95.4,363.1 L100.0,363.4 L101.9,363.9 L103.6,364.9 L104.5,365.9 L104.9,366.9 L104.9,367.9 L104.4,368.9 L102.1,370.5 L98.6,371.4ZM93.4,400.6 L86.4,400.3 L80.1,399.2 L77.6,398.3 L75.8,397.1 L74.9,396.1 L74.8,394.9 L75.4,393.9 L76.4,393.1 L82.5,390.1 L85.6,387.6 L88.1,386.4 L91.1,385.6 L94.9,385.0 L104.4,384.4 L114.9,384.9 L119.1,385.5 L122.1,386.2 L124.4,387.3 L127.8,389.9 L132.0,392.4 L133.2,393.4 L133.7,394.4 L133.4,395.6 L131.8,396.9 L129.1,397.9 L125.4,398.8 L120.1,399.3 L93.4,400.6Z" fill="rgb(91, 194, 209)" fill-rule="evenodd"/><path d="M99.1,370.4 L95.9,370.6 L92.6,369.9 L90.6,368.4 L90.3,367.6 L90.4,366.6 L91.8,365.1 L94.5,364.1 L97.9,364.0 L100.9,364.6 L102.1,365.3 L102.9,366.1 L103.3,366.9 L103.2,367.9 L101.9,369.4 L99.1,370.4ZM98.1,400.1 L90.9,400.4 L86.6,400.1 L83.1,399.6 L80.1,398.7 L78.0,397.6 L76.6,396.4 L76.4,395.1 L77.1,394.1 L78.5,393.1 L85.4,390.4 L88.9,388.2 L90.6,387.5 L95.6,386.4 L102.9,386.0 L112.6,386.3 L119.1,387.3 L121.4,388.2 L129.4,392.4 L130.8,393.4 L131.4,394.4 L131.0,395.6 L129.6,396.6 L127.6,397.4 L124.5,398.1 L119.9,398.6 L109.9,399.0 L98.1,400.1Z" fill="rgb(101, 199, 155)" fill-rule="evenodd"/><path d="M98.9,368.9 L96.9,369.1 L95.1,368.7 L93.9,367.9 L93.8,366.9 L94.4,366.1 L95.9,365.5 L97.6,365.4 L99.4,365.8 L100.4,366.4 L100.7,367.4 L100.1,368.3 L98.9,368.9ZM96.1,399.9 L88.9,400.0 L83.1,399.2 L79.2,397.6 L78.2,396.6 L77.9,395.4 L78.8,394.1 L80.5,393.1 L89.2,390.4 L93.6,388.3 L97.6,387.5 L103.1,387.1 L110.6,387.4 L115.9,388.2 L126.3,392.4 L127.9,393.4 L128.5,394.4 L128.2,395.4 L127.3,396.1 L123.1,397.4 L119.1,397.9 L110.4,398.0 L96.1,399.9Z" fill="rgb(110, 198, 80)" fill-rule="evenodd"/><path d="M95.1,399.6 L88.9,399.8 L83.6,399.0 L80.3,397.6 L79.3,396.6 L79.2,395.6 L79.6,394.9 L80.5,394.1 L83.9,392.7 L94.4,390.5 L99.2,388.9 L103.9,388.4 L108.1,388.6 L111.1,389.1 L112.2,389.6 L113.9,391.2 L121.9,392.5 L123.8,393.4 L124.7,394.4 L124.4,395.1 L123.9,395.6 L121.1,396.6 L117.6,396.8 L110.6,396.5 L102.3,398.6 L95.1,399.6Z" fill="rgb(121, 199, 62)" fill-rule="evenodd"/><path d="M94.6,399.4 L89.1,399.5 L84.4,398.9 L81.2,397.6 L80.4,396.9 L80.2,395.9 L81.4,394.5 L84.4,393.2 L89.1,392.3 L94.1,391.9 L97.9,392.0 L101.1,392.7 L103.7,393.9 L105.3,395.4 L105.3,396.1 L105.0,396.6 L103.1,397.6 L99.4,398.6 L94.6,399.4Z" fill="rgb(143, 205, 50)" fill-rule="evenodd"/><path d="M94.4,399.2 L89.6,399.4 L85.1,398.8 L82.0,397.6 L81.2,396.9 L81.1,396.1 L82.0,394.9 L84.4,393.8 L87.9,393.1 L91.9,392.8 L95.6,392.9 L98.6,393.4 L101.0,394.4 L102.4,395.6 L102.2,396.6 L100.6,397.6 L97.6,398.6 L94.4,399.2Z" fill="rgb(190, 220, 50)" fill-rule="evenodd"/><path d="M91.6,399.1 L87.9,399.0 L84.5,398.4 L82.4,397.4 L82.0,396.9 L81.9,396.1 L82.7,395.1 L84.6,394.2 L87.9,393.6 L91.1,393.3 L94.4,393.5 L97.1,394.0 L99.3,394.9 L100.3,395.9 L100.0,396.9 L98.1,398.0 L95.1,398.8 L91.6,399.1Z" fill="rgb(228, 228, 53)" fill-rule="evenodd"/><path d="M92.1,398.9 L88.4,398.8 L85.1,398.3 L83.2,397.4 L82.7,396.9 L82.6,396.1 L83.6,395.1 L85.4,394.4 L87.9,394.0 L90.9,393.8 L93.9,394.0 L96.1,394.4 L97.9,395.1 L98.8,396.1 L98.5,397.1 L97.2,397.9 L94.9,398.5 L92.1,398.9Z" fill="rgb(245, 196, 47)" fill-rule="evenodd"/><path d="M92.4,398.6 L88.6,398.6 L85.6,398.1 L83.6,397.1 L83.4,396.1 L84.1,395.4 L85.9,394.7 L90.6,394.1 L95.4,394.7 L96.9,395.4 L97.7,396.1 L97.6,396.9 L96.7,397.6 L94.9,398.2 L92.4,398.6Z" fill="rgb(243, 130, 34)" fill-rule="evenodd"/><path d="M92.4,398.4 L89.6,398.5 L86.9,398.1 L84.8,397.4 L84.1,396.4 L84.6,395.6 L85.9,395.0 L90.1,394.4 L94.3,394.9 L95.7,395.4 L96.7,396.1 L96.6,396.9 L95.9,397.5 L92.4,398.4Z" fill="rgb(227, 45, 26)" fill-rule="evenodd"/></g>
<line x1="106.40" y1="313.90" x2="106.40" y2="427.40" stroke="#1a1a1a" stroke-width="1.0" />
<line x1="48.30" y1="378.40" x2="162.20" y2="378.40" stroke="#1a1a1a" stroke-width="1.0" />
<text x="109.90" y="304.00" font-size="8.8" text-anchor="middle" >G1</text>
<text x="55.60" y="328.10" font-size="8.8" text-anchor="start" >9.11</text>
<text x="134.90" y="328.10" font-size="8.8" text-anchor="start" >7.92</text>
<text x="55.60" y="419.40" font-size="8.8" text-anchor="start" >58.2</text>
<text x="140.20" y="419.40" font-size="8.8" text-anchor="start" >24.8</text>
<line x1="46.30" y1="321.50" x2="48.30" y2="321.50" stroke="#8a8a8a" stroke-width="0.7" />
<line x1="43.70" y1="321.10" x2="45.50" y2="321.10" stroke="#b0b0b0" stroke-width="0.8" />
<line x1="46.30" y1="353.00" x2="48.30" y2="353.00" stroke="#8a8a8a" stroke-width="0.7" />
<line x1="43.70" y1="352.60" x2="45.50" y2="352.60" stroke="#b0b0b0" stroke-width="0.8" />
<line x1="46.30" y1="388.80" x2="48.30" y2="388.80" stroke="#8a8a8a" stroke-width="0.7" />
<line x1="43.70" y1="388.40" x2="45.50" y2="388.40" stroke="#b0b0b0" stroke-width="0.8" />
<line x1="46.30" y1="401.70" x2="48.30" y2="401.70" stroke="#8a8a8a" stroke-width="0.7" />
<line x1="43.70" y1="401.30" x2="45.50" y2="401.30" stroke="#b0b0b0" stroke-width="0.8" />
<line x1="46.30" y1="414.30" x2="48.30" y2="414.30" stroke="#8a8a8a" stroke-width="0.7" />
<line x1="43.70" y1="413.90" x2="45.50" y2="413.90" stroke="#b0b0b0" stroke-width="0.8" />
<line x1="75.30" y1="427.40" x2="75.30" y2="429.20" stroke="#8a8a8a" stroke-width="0.7" />
<line x1="73.70" y1="430.00" x2="75.70" y2="430.00" stroke="#b0b0b0" stroke-width="0.8" />
<line x1="84.80" y1="427.40" x2="84.80" y2="429.20" stroke="#8a8a8a" stroke-width="0.7" />
<line x1="83.20" y1="430.00" x2="85.20" y2="430.00" stroke="#b0b0b0" stroke-width="0.8" />
<line x1="95.30" y1="427.40" x2="95.30" y2="429.20" stroke="#8a8a8a" stroke-width="0.7" />
<line x1="93.70" y1="430.00" x2="95.70" y2="430.00" stroke="#b0b0b0" stroke-width="0.8" />
<line x1="132.30" y1="427.40" x2="132.30" y2="429.20" stroke="#8a8a8a" stroke-width="0.7" />
<line x1="130.70" y1="430.00" x2="132.70" y2="430.00" stroke="#b0b0b0" stroke-width="0.8" />
<line x1="161.50" y1="427.40" x2="161.50" y2="429.20" stroke="#8a8a8a" stroke-width="0.7" />
<line x1="159.90" y1="430.00" x2="161.90" y2="430.00" stroke="#b0b0b0" stroke-width="0.8" />
<circle cx="84.80" cy="428.80" r="0.9" fill="#555"/>
<rect x="169.60" y="313.90" width="114.70" height="113.50" stroke="#c4c4c4" stroke-width="0.8" fill="#fff"/>
<path d="M196.7,365.6 L196.8,365.1 L196.9,364.6 L197.0,364.1 L197.1,363.6 L197.4,363.1 L197.9,362.6 L198.6,362.1 L199.6,361.5 L200.6,361.0 L201.8,360.5 L202.9,360.0 L204.1,359.5 L205.3,359.1 L206.4,358.6 L207.7,358.2 L208.9,357.9 L210.2,357.6 L211.4,357.3 L212.6,357.1 L213.9,357.0 L215.2,357.0 L216.5,357.0 L217.7,356.9 L218.8,356.8 L219.9,356.6 L220.9,356.3 L221.8,356.1 L222.7,355.8 L223.5,355.5 L224.3,355.2 L224.9,354.9 L225.4,354.6 L225.8,354.4 L226.2,354.1 L226.7,353.8 L227.4,353.6 L228.3,353.4 L229.3,353.3 L230.3,353.1 L231.4,353.0 L232.5,352.9 L233.5,352.7 L234.4,352.5 L235.3,352.3 L236.1,352.1 L236.9,351.9 L237.7,351.7 L238.4,351.5 L239.1,351.3 L239.8,351.1 L240.5,350.9 L241.1,350.8 L241.6,350.7 L242.1,350.7 L242.4,350.8 L242.6,351.0 L242.7,351.2 L242.8,351.5 L243.0,351.8 L243.3,352.1 L243.8,352.4 L244.4,352.7 L245.1,353.0 L245.8,353.3 L246.5,353.6 L247.0,354.0 L247.4,354.4 L247.6,354.8 L247.8,355.2 L248.0,355.6 L248.3,356.0 L248.8,356.4 L249.5,356.7 L250.4,357.0 L251.4,357.3 L252.5,357.6 L253.4,357.9 L254.3,358.3 L255.1,358.7 L255.8,359.1 L256.5,359.6 L257.1,360.1 L257.6,360.6 L258.0,361.3 L258.3,362.1 L258.5,362.9 L258.6,363.8 L258.6,364.8 L258.6,365.8 L258.6,366.8 L258.5,367.8 L258.3,368.8 L258.1,369.9 L257.8,370.9 L257.6,372.0 L257.4,373.0 L257.3,374.0 L257.2,375.0 L257.1,376.1 L257.0,377.1 L257.0,378.1 L257.0,379.1 L257.0,380.1 L257.1,381.2 L257.2,382.2 L257.4,383.3 L257.6,384.3 L257.8,385.2 L258.1,386.1 L258.5,386.9 L258.9,387.7 L259.3,388.5 L259.6,389.3 L259.9,390.1 L260.1,390.9 L260.3,391.7 L260.4,392.5 L260.5,393.4 L260.6,394.2 L260.5,395.0 L260.4,395.9 L260.1,396.7 L259.9,397.6 L259.5,398.5 L259.1,399.3 L258.6,400.0 L258.1,400.6 L257.6,401.1 L257.0,401.6 L256.3,402.0 L255.4,402.4 L254.3,402.7 L252.9,403.0 L251.2,403.1 L249.3,403.3 L247.3,403.4 L245.3,403.5 L243.3,403.6 L241.3,403.7 L239.3,403.8 L237.2,403.9 L235.1,404.0 L233.1,404.1 L231.0,404.2 L229.0,404.3 L226.9,404.4 L224.9,404.5 L222.9,404.6 L220.8,404.6 L218.8,404.6 L216.7,404.5 L214.7,404.4 L212.6,404.2 L210.5,404.0 L208.5,403.8 L206.5,403.6 L204.5,403.4 L202.5,403.1 L200.6,402.8 L198.7,402.5 L197.0,402.2 L195.5,401.8 L194.2,401.4 L193.1,400.9 L192.2,400.4 L191.3,399.8 L190.6,399.3 L190.0,398.7 L189.5,398.1 L189.1,397.5 L188.8,396.9 L188.6,396.2 L188.4,395.6 L188.4,395.0 L188.5,394.4 L188.6,393.8 L188.9,393.2 L189.2,392.6 L189.6,392.0 L190.0,391.4 L190.5,390.7 L191.1,390.0 L191.7,389.3 L192.4,388.6 L193.0,387.8 L193.6,387.1 L194.2,386.4 L194.7,385.7 L195.3,385.0 L195.8,384.3 L196.2,383.6 L196.5,382.8 L196.7,382.0 L196.8,381.3 L196.9,380.5 L196.8,379.6 L196.8,378.8 L196.7,377.9 L196.6,376.9 L196.4,375.9 L196.1,374.8 L195.8,373.7 L195.6,372.7 L195.5,371.8 L195.4,371.0 L195.4,370.3 L195.5,369.7 L195.5,369.2 L195.6,368.6 L195.7,368.1 L195.8,367.6 L196.0,367.2 L196.1,366.8 L196.3,366.4 L196.5,366.0Z" fill="rgb(28, 55, 150)"/><g filter="url(#bl)"><path d="M224.4,403.7 L213.4,403.5 L199.4,401.7 L194.1,400.3 L191.9,399.1 L190.1,397.5 L189.3,395.1 L190.3,392.9 L191.4,391.2 L196.9,384.9 L198.5,381.6 L198.8,378.4 L198.2,375.1 L196.9,371.1 L197.2,367.9 L198.6,364.4 L199.3,363.6 L202.1,362.2 L206.4,360.6 L212.9,359.0 L219.6,358.7 L225.6,356.9 L227.9,355.6 L234.9,354.6 L241.4,352.9 L242.4,353.9 L245.8,355.6 L246.6,356.9 L247.9,358.1 L254.6,360.6 L256.4,361.9 L256.9,362.6 L257.4,363.9 L257.6,367.1 L255.7,374.1 L255.2,379.4 L255.9,382.6 L257.1,386.1 L258.6,389.1 L259.7,392.1 L260.0,394.1 L259.7,395.9 L258.9,398.1 L257.9,399.6 L256.4,400.9 L253.6,401.9 L240.4,403.0 L225.1,403.5 L224.4,403.7Z" fill="rgb(32, 67, 165)" fill-rule="evenodd"/><path d="M235.6,377.1 L227.1,377.3 L218.6,377.0 L210.6,376.2 L203.4,375.0 L200.1,374.2 L199.6,373.8 L198.1,370.9 L198.0,368.9 L199.3,365.1 L200.6,364.0 L206.6,361.7 L213.1,360.3 L219.6,359.9 L225.4,359.2 L238.4,359.5 L249.1,360.7 L253.6,361.8 L255.7,363.1 L256.2,364.1 L256.6,365.6 L256.5,368.4 L254.6,373.1 L253.6,374.6 L245.6,376.2 L235.6,377.1ZM226.9,402.9 L220.4,403.1 L213.6,402.8 L204.6,401.8 L198.4,400.8 L194.6,399.8 L192.1,398.5 L190.6,397.1 L189.9,395.1 L190.8,393.1 L191.9,391.6 L196.8,386.1 L200.1,381.6 L200.9,381.1 L215.6,380.2 L229.9,380.0 L249.4,380.9 L253.4,381.3 L254.1,381.8 L255.2,383.4 L258.4,390.4 L259.3,393.9 L259.0,395.9 L258.3,397.9 L257.4,399.1 L256.1,400.2 L253.4,401.2 L248.9,401.7 L226.9,402.9Z" fill="rgb(36, 78, 177)" fill-rule="evenodd"/><path d="M235.1,374.6 L222.1,374.7 L215.9,374.2 L210.1,373.4 L204.9,372.3 L200.9,370.9 L199.4,369.9 L199.1,368.4 L200.4,365.3 L202.1,364.4 L204.8,363.4 L211.4,362.0 L220.6,361.0 L231.1,360.9 L241.6,361.6 L250.9,363.2 L254.6,364.5 L255.4,365.2 L255.8,366.6 L255.7,368.1 L254.9,370.1 L253.9,371.4 L250.4,372.5 L245.6,373.5 L235.1,374.6ZM229.1,402.4 L217.6,402.6 L208.9,401.9 L199.6,400.6 L196.4,399.9 L193.1,398.6 L191.0,396.9 L190.5,395.1 L191.2,393.4 L192.3,391.9 L199.0,384.4 L200.6,383.0 L214.4,381.9 L230.6,381.7 L246.9,382.5 L253.4,383.3 L254.4,383.9 L257.9,390.6 L258.8,393.9 L258.6,395.6 L257.8,397.6 L256.9,398.9 L255.6,399.8 L253.4,400.5 L248.6,401.2 L229.1,402.4Z" fill="rgb(40, 94, 188)" fill-rule="evenodd"/><path d="M231.4,373.6 L220.4,373.4 L210.4,372.1 L206.6,371.1 L203.8,369.9 L202.4,368.6 L202.1,367.4 L203.0,366.1 L204.6,365.1 L210.1,363.4 L218.4,362.2 L227.9,361.8 L237.6,362.2 L245.7,363.4 L251.3,365.1 L253.0,366.1 L253.9,367.4 L253.6,368.6 L252.6,369.6 L250.6,370.6 L247.9,371.5 L240.4,373.0 L231.4,373.6ZM224.1,402.2 L213.9,401.9 L204.9,401.0 L198.6,400.0 L195.1,399.0 L192.6,397.8 L191.4,396.6 L190.9,395.1 L191.6,393.6 L192.7,392.1 L198.9,385.5 L200.1,384.5 L207.6,383.5 L217.1,382.8 L227.4,382.7 L237.4,383.0 L246.1,383.7 L252.9,384.9 L254.1,385.3 L254.8,386.1 L258.0,392.4 L258.4,394.1 L258.1,395.6 L257.3,397.4 L255.6,399.2 L254.1,399.8 L248.6,400.7 L239.9,401.4 L224.1,402.2Z" fill="rgb(45, 110, 200)" fill-rule="evenodd"/><path d="M233.4,372.6 L223.1,372.7 L213.8,371.6 L210.1,370.7 L207.4,369.6 L206.1,368.6 L205.7,367.4 L206.4,366.4 L207.6,365.6 L212.6,364.0 L219.6,363.0 L227.9,362.6 L236.1,362.9 L243.1,363.9 L248.1,365.5 L249.6,366.4 L250.3,367.4 L250.1,368.4 L249.4,369.1 L246.1,370.7 L240.6,371.9 L233.4,372.6ZM228.9,401.7 L217.6,401.8 L209.1,401.1 L201.4,400.1 L196.6,399.1 L193.9,398.0 L191.8,396.4 L191.4,395.1 L192.0,393.9 L193.1,392.4 L197.5,387.9 L199.4,386.4 L202.9,385.4 L207.4,384.7 L218.9,383.7 L227.4,383.6 L235.6,383.9 L243.1,384.6 L248.9,385.6 L252.4,386.6 L254.5,387.9 L256.1,390.0 L257.5,392.6 L257.8,394.1 L257.3,396.1 L256.1,398.0 L254.6,398.9 L251.1,399.8 L244.1,400.7 L228.9,401.7Z" fill="rgb(63, 146, 215)" fill-rule="evenodd"/><path d="M230.1,371.9 L221.9,371.7 L215.1,370.7 L212.4,370.0 L210.5,369.1 L209.6,368.4 L209.4,367.4 L209.9,366.6 L211.1,365.9 L215.0,364.6 L220.9,363.7 L227.9,363.4 L234.9,363.7 L240.9,364.6 L244.9,365.9 L246.1,366.6 L246.6,367.4 L246.6,368.1 L245.9,368.9 L242.4,370.4 L237.1,371.4 L230.1,371.9ZM224.4,401.4 L213.9,401.2 L206.9,400.5 L199.9,399.4 L196.1,398.4 L194.1,397.6 L192.3,396.1 L192.0,395.1 L193.1,393.4 L194.4,392.1 L200.3,388.1 L202.9,386.9 L206.4,386.1 L210.9,385.4 L222.9,384.7 L236.9,385.1 L242.6,385.7 L246.9,386.6 L249.1,387.4 L250.8,388.4 L252.9,390.4 L256.3,392.9 L257.0,394.1 L256.6,395.7 L255.3,396.9 L252.1,398.3 L247.9,399.5 L239.6,400.6 L224.4,401.4Z" fill="rgb(79, 176, 221)" fill-rule="evenodd"/><path d="M233.4,370.6 L226.6,370.9 L220.1,370.3 L215.3,369.1 L214.1,368.4 L213.7,367.6 L214.2,366.9 L214.9,366.4 L217.9,365.4 L222.4,364.7 L227.4,364.4 L232.9,364.6 L237.1,365.2 L240.6,366.1 L241.5,366.6 L242.2,367.4 L241.9,368.4 L240.1,369.4 L237.2,370.1 L233.4,370.6ZM228.9,400.9 L221.9,401.1 L214.4,400.8 L203.4,399.6 L199.0,398.6 L196.2,397.6 L194.4,396.4 L193.9,395.1 L194.4,394.1 L195.6,393.1 L200.8,390.6 L204.1,388.4 L206.0,387.6 L212.6,386.3 L222.4,385.7 L235.1,386.1 L240.1,386.6 L243.9,387.4 L246.8,388.6 L249.1,390.7 L252.1,392.9 L253.1,394.1 L253.0,395.4 L252.1,396.4 L249.7,397.6 L246.9,398.6 L238.8,400.1 L228.9,400.9Z" fill="rgb(91, 194, 209)" fill-rule="evenodd"/><path d="M229.1,400.4 L217.1,400.5 L206.1,399.5 L201.9,398.7 L198.4,397.6 L196.7,396.6 L196.2,395.4 L196.7,394.4 L198.4,393.2 L205.1,390.6 L209.9,388.1 L215.1,387.1 L222.6,386.7 L233.1,386.9 L237.3,387.4 L240.4,388.0 L242.8,389.1 L244.9,391.1 L248.4,393.3 L249.2,394.4 L249.2,395.4 L248.3,396.4 L244.4,398.1 L237.6,399.6 L229.1,400.4Z" fill="rgb(101, 199, 155)" fill-rule="evenodd"/><path d="M228.6,399.9 L217.9,400.0 L207.4,399.2 L203.1,398.5 L200.2,397.6 L198.4,396.6 L198.0,395.6 L199.0,394.4 L201.1,393.2 L210.0,390.6 L214.6,388.7 L218.4,388.0 L223.9,387.7 L231.1,387.9 L236.1,388.8 L237.3,389.4 L239.3,391.1 L244.4,393.5 L245.6,394.9 L245.4,395.9 L244.5,396.6 L241.4,398.0 L235.9,399.1 L228.6,399.9Z" fill="rgb(110, 198, 80)" fill-rule="evenodd"/><path d="M222.6,399.6 L214.1,399.5 L206.4,398.7 L201.1,397.4 L199.9,396.6 L199.5,395.9 L199.9,395.1 L201.1,394.3 L205.9,392.7 L213.6,391.2 L224.4,389.8 L228.1,390.2 L238.1,392.8 L241.4,394.1 L242.5,395.4 L242.3,396.1 L241.4,396.9 L237.4,398.2 L230.4,399.2 L222.6,399.6Z" fill="rgb(121, 199, 62)" fill-rule="evenodd"/><path d="M223.9,399.1 L215.1,399.2 L207.4,398.5 L202.4,397.4 L201.1,396.6 L200.8,395.9 L201.4,395.1 L202.6,394.5 L207.1,393.2 L214.1,392.1 L221.1,391.7 L227.6,392.0 L233.9,392.9 L238.6,394.2 L239.9,394.9 L240.4,395.6 L240.2,396.4 L239.5,396.9 L236.6,397.8 L231.9,398.5 L223.9,399.1Z" fill="rgb(143, 205, 50)" fill-rule="evenodd"/><path d="M220.1,398.9 L213.1,398.8 L207.1,398.2 L203.0,397.1 L202.2,396.6 L202.0,395.9 L202.4,395.4 L203.6,394.7 L207.4,393.7 L213.4,392.9 L220.4,392.6 L226.6,392.9 L234.9,393.9 L237.9,394.8 L238.8,395.4 L239.0,395.9 L238.8,396.4 L238.0,396.9 L234.9,397.7 L220.1,398.9Z" fill="rgb(190, 220, 50)" fill-rule="evenodd"/><path d="M218.4,398.6 L212.6,398.5 L207.6,398.0 L204.2,397.1 L203.3,396.6 L203.0,396.1 L203.2,395.6 L204.0,395.1 L207.1,394.2 L212.1,393.5 L217.6,393.3 L233.6,394.3 L236.5,394.9 L237.5,395.4 L237.7,395.9 L237.5,396.4 L236.6,396.8 L234.1,397.4 L218.4,398.6Z" fill="rgb(228, 228, 53)" fill-rule="evenodd"/><path d="M218.1,398.4 L212.9,398.3 L208.4,397.9 L205.3,397.1 L204.3,396.6 L204.0,396.1 L204.3,395.6 L205.1,395.1 L207.6,394.5 L211.4,393.9 L216.1,393.7 L221.1,393.9 L226.6,394.5 L232.9,394.6 L235.3,395.1 L236.2,395.9 L235.4,396.6 L233.4,397.1 L227.1,397.4 L218.1,398.4Z" fill="rgb(245, 196, 47)" fill-rule="evenodd"/><path d="M218.1,398.1 L213.4,398.1 L209.1,397.7 L206.4,397.1 L205.4,396.6 L205.1,396.1 L205.8,395.4 L208.1,394.7 L215.4,394.1 L220.4,394.3 L226.4,395.1 L232.1,395.1 L233.3,395.4 L233.8,395.9 L233.3,396.4 L231.9,396.7 L226.9,397.0 L221.9,397.8 L218.1,398.1Z" fill="rgb(243, 130, 34)" fill-rule="evenodd"/><path d="M218.1,397.9 L210.3,397.6 L207.1,396.9 L206.3,396.1 L207.1,395.4 L208.9,394.9 L215.4,394.4 L221.6,394.8 L224.9,395.6 L225.9,396.1 L225.0,396.6 L222.6,397.3 L218.1,397.9Z" fill="rgb(227, 45, 26)" fill-rule="evenodd"/></g>
<line x1="227.60" y1="313.90" x2="227.60" y2="427.40" stroke="#1a1a1a" stroke-width="1.0" />
<line x1="169.60" y1="378.40" x2="284.30" y2="378.40" stroke="#1a1a1a" stroke-width="1.0" />
<text x="225.00" y="306.60" font-size="8.8" text-anchor="middle" >G2</text>
<text x="174.40" y="328.10" font-size="8.8" text-anchor="start" >7.96</text>
<text x="253.50" y="328.10" font-size="8.8" text-anchor="start" >8.52</text>
<text x="175.10" y="419.40" font-size="8.8" text-anchor="start" >50.3</text>
<text x="259.50" y="419.40" font-size="8.8" text-anchor="start" >33.2</text>
<line x1="167.60" y1="321.50" x2="169.60" y2="321.50" stroke="#8a8a8a" stroke-width="0.7" />
<line x1="165.00" y1="321.10" x2="166.80" y2="321.10" stroke="#b0b0b0" stroke-width="0.8" />
<line x1="167.60" y1="353.00" x2="169.60" y2="353.00" stroke="#8a8a8a" stroke-width="0.7" />
<line x1="165.00" y1="352.60" x2="166.80" y2="352.60" stroke="#b0b0b0" stroke-width="0.8" />
<line x1="167.60" y1="388.80" x2="169.60" y2="388.80" stroke="#8a8a8a" stroke-width="0.7" />
<line x1="165.00" y1="388.40" x2="166.80" y2="388.40" stroke="#b0b0b0" stroke-width="0.8" />
<line x1="167.60" y1="401.70" x2="169.60" y2="401.70" stroke="#8a8a8a" stroke-width="0.7" />
<line x1="165.00" y1="401.30" x2="166.80" y2="401.30" stroke="#b0b0b0" stroke-width="0.8" />
<line x1="167.60" y1="414.30" x2="169.60" y2="414.30" stroke="#8a8a8a" stroke-width="0.7" />
<line x1="165.00" y1="413.90" x2="166.80" y2="413.90" stroke="#b0b0b0" stroke-width="0.8" />
<line x1="196.60" y1="427.40" x2="196.60" y2="429.20" stroke="#8a8a8a" stroke-width="0.7" />
<line x1="195.00" y1="430.00" x2="197.00" y2="430.00" stroke="#b0b0b0" stroke-width="0.8" />
<line x1="206.10" y1="427.40" x2="206.10" y2="429.20" stroke="#8a8a8a" stroke-width="0.7" />
<line x1="204.50" y1="430.00" x2="206.50" y2="430.00" stroke="#b0b0b0" stroke-width="0.8" />
<line x1="216.60" y1="427.40" x2="216.60" y2="429.20" stroke="#8a8a8a" stroke-width="0.7" />
<line x1="215.00" y1="430.00" x2="217.00" y2="430.00" stroke="#b0b0b0" stroke-width="0.8" />
<line x1="253.60" y1="427.40" x2="253.60" y2="429.20" stroke="#8a8a8a" stroke-width="0.7" />
<line x1="252.00" y1="430.00" x2="254.00" y2="430.00" stroke="#b0b0b0" stroke-width="0.8" />
<line x1="282.80" y1="427.40" x2="282.80" y2="429.20" stroke="#8a8a8a" stroke-width="0.7" />
<line x1="281.20" y1="430.00" x2="283.20" y2="430.00" stroke="#b0b0b0" stroke-width="0.8" />
<circle cx="206.10" cy="428.80" r="0.9" fill="#555"/>
<rect x="291.50" y="313.90" width="114.10" height="113.50" stroke="#c4c4c4" stroke-width="0.8" fill="#fff"/>
<path d="M322.3,363.4 L322.5,362.7 L322.6,362.1 L322.8,361.5 L323.0,361.0 L323.4,360.5 L324.0,359.9 L324.8,359.2 L325.8,358.6 L326.9,357.8 L328.1,357.1 L329.3,356.5 L330.4,355.8 L331.5,355.2 L332.6,354.5 L333.8,353.9 L334.9,353.4 L335.9,352.8 L336.9,352.3 L337.8,351.8 L338.5,351.4 L339.2,351.0 L339.9,350.7 L340.7,350.3 L341.5,349.9 L342.4,349.5 L343.2,349.1 L344.2,348.6 L345.1,348.2 L346.2,347.9 L347.4,347.6 L348.8,347.4 L350.3,347.3 L352.0,347.3 L353.6,347.3 L355.2,347.3 L356.7,347.2 L358.0,347.1 L359.2,347.0 L360.3,346.8 L361.5,346.7 L362.6,346.6 L363.7,346.4 L364.9,346.2 L366.0,346.0 L367.1,345.9 L368.3,345.7 L369.5,345.5 L370.7,345.3 L372.0,345.1 L373.5,344.9 L375.0,344.7 L376.4,344.6 L377.8,344.4 L378.9,344.4 L379.8,344.4 L380.6,344.5 L381.3,344.6 L381.9,344.7 L382.5,345.0 L383.0,345.3 L383.5,345.7 L384.0,346.3 L384.4,346.9 L384.7,347.5 L385.0,348.2 L385.3,348.8 L385.5,349.4 L385.7,350.0 L385.9,350.6 L385.9,351.3 L386.0,352.0 L385.9,352.8 L385.8,353.7 L385.6,354.6 L385.3,355.6 L385.0,356.7 L384.6,357.7 L384.2,358.7 L383.7,359.7 L383.1,360.6 L382.4,361.6 L381.7,362.6 L380.9,363.5 L380.1,364.5 L379.2,365.5 L378.2,366.5 L377.2,367.5 L376.2,368.5 L375.2,369.5 L374.2,370.4 L373.3,371.2 L372.3,372.0 L371.4,372.8 L370.5,373.5 L369.7,374.2 L369.0,375.0 L368.4,375.8 L367.8,376.6 L367.3,377.3 L366.9,378.1 L366.5,378.9 L366.1,379.7 L365.8,380.5 L365.6,381.2 L365.5,381.9 L365.3,382.7 L365.1,383.5 L364.9,384.4 L364.6,385.4 L364.3,386.6 L363.9,387.8 L363.5,389.1 L363.1,390.3 L362.6,391.4 L362.1,392.5 L361.6,393.5 L361.1,394.5 L360.5,395.5 L359.8,396.4 L359.1,397.2 L358.3,397.9 L357.4,398.6 L356.4,399.2 L355.4,399.7 L354.3,400.2 L353.2,400.7 L352.0,401.2 L350.8,401.6 L349.5,402.1 L348.1,402.4 L346.6,402.8 L345.0,403.1 L343.2,403.4 L341.3,403.6 L339.3,403.8 L337.2,404.0 L335.2,404.1 L333.4,404.2 L331.7,404.2 L330.0,404.2 L328.3,404.1 L326.8,404.0 L325.3,403.9 L324.0,403.6 L322.8,403.3 L321.7,402.9 L320.7,402.4 L319.8,401.9 L319.0,401.3 L318.2,400.7 L317.5,400.0 L316.9,399.3 L316.3,398.5 L315.9,397.7 L315.5,396.9 L315.3,396.1 L315.2,395.3 L315.3,394.5 L315.5,393.8 L315.8,393.0 L316.1,392.2 L316.4,391.4 L316.7,390.6 L317.1,389.9 L317.5,389.1 L318.0,388.3 L318.4,387.5 L318.8,386.7 L319.2,385.8 L319.6,384.9 L320.1,383.9 L320.5,382.9 L320.8,381.9 L321.1,380.9 L321.3,379.9 L321.4,378.9 L321.5,377.9 L321.6,377.0 L321.7,376.0 L321.7,375.0 L321.7,374.0 L321.7,373.1 L321.7,372.1 L321.7,371.1 L321.7,370.2 L321.7,369.2 L321.8,368.2 L321.8,367.2 L321.9,366.2 L322.0,365.2 L322.1,364.2Z" fill="rgb(28, 55, 150)"/><g filter="url(#bl)"><path d="M336.9,403.2 L327.6,403.0 L323.4,402.1 L320.9,400.9 L318.9,399.4 L317.9,398.1 L316.9,396.4 L316.8,394.6 L317.6,391.9 L321.1,384.6 L322.6,380.4 L323.4,373.4 L323.6,366.1 L324.3,362.6 L324.7,361.6 L328.4,358.8 L333.6,355.8 L345.4,350.3 L347.6,349.6 L349.1,349.4 L359.1,349.1 L378.1,346.2 L380.1,346.1 L381.9,346.6 L383.3,348.1 L384.4,351.1 L384.2,354.4 L382.9,357.9 L379.0,363.4 L372.6,369.7 L368.0,373.6 L365.7,376.6 L363.9,380.4 L363.4,383.4 L361.2,390.4 L359.4,394.1 L358.1,396.0 L354.6,398.5 L349.1,400.9 L343.6,402.4 L336.9,403.2Z" fill="rgb(32, 67, 165)" fill-rule="evenodd"/><path d="M336.9,402.4 L327.9,402.2 L323.6,401.1 L321.4,400.0 L319.7,398.6 L317.9,396.1 L317.8,394.9 L318.4,392.1 L322.4,383.4 L323.9,378.6 L324.6,374.7 L325.6,371.4 L324.9,366.4 L325.2,363.9 L325.9,362.0 L328.9,359.5 L332.1,357.5 L338.6,354.6 L342.1,353.6 L343.9,353.4 L346.6,353.7 L354.1,355.6 L356.1,355.7 L358.4,354.9 L366.6,350.5 L369.4,349.4 L374.1,348.3 L378.4,347.7 L379.9,347.7 L381.4,348.2 L382.8,350.6 L383.0,352.9 L381.6,357.0 L379.6,360.1 L377.6,362.5 L371.7,368.4 L365.1,374.0 L360.0,377.9 L358.2,379.6 L357.2,381.1 L356.8,383.1 L358.1,387.4 L358.3,390.4 L357.9,392.9 L356.9,394.9 L355.9,396.1 L353.9,397.6 L348.9,400.1 L343.4,401.7 L336.9,402.4Z" fill="rgb(36, 78, 177)" fill-rule="evenodd"/><path d="M336.9,401.9 L329.4,401.7 L324.9,400.7 L322.6,399.7 L321.1,398.7 L319.5,397.1 L318.7,395.6 L318.6,394.4 L319.1,392.1 L323.2,382.9 L325.4,376.8 L328.8,373.1 L329.5,371.9 L329.2,370.4 L327.5,367.6 L326.7,365.9 L326.6,363.9 L327.2,362.1 L329.3,360.1 L332.1,358.3 L335.4,356.7 L339.1,355.5 L342.4,355.2 L345.9,355.5 L348.9,356.2 L354.1,358.0 L356.9,358.2 L359.4,357.5 L363.4,355.6 L367.5,352.4 L369.9,351.3 L371.6,351.0 L373.6,351.1 L375.4,351.5 L376.9,352.4 L377.9,353.9 L377.9,356.1 L376.9,358.4 L374.4,361.6 L371.5,364.9 L368.1,368.0 L357.6,376.2 L355.1,378.9 L353.6,381.1 L353.1,382.4 L353.1,383.6 L354.3,388.1 L354.6,391.6 L354.0,394.6 L352.7,396.9 L350.1,398.7 L346.1,400.4 L341.4,401.5 L336.9,401.9Z" fill="rgb(40, 94, 188)" fill-rule="evenodd"/><path d="M337.6,401.4 L335.6,401.6 L331.1,401.4 L328.1,401.0 L326.1,400.4 L323.9,399.3 L321.6,397.6 L320.3,396.1 L319.5,394.4 L319.6,392.6 L320.3,390.6 L325.1,380.1 L327.7,376.9 L331.1,373.6 L331.8,372.4 L331.6,370.9 L329.2,367.4 L328.5,365.6 L328.5,363.4 L329.6,361.1 L331.4,359.5 L334.9,357.6 L337.6,356.7 L340.9,356.3 L343.9,356.4 L346.9,356.8 L355.6,359.7 L357.6,359.9 L359.6,359.7 L362.1,358.9 L365.1,357.6 L367.1,354.1 L369.1,352.6 L370.6,352.1 L372.1,352.0 L373.4,352.2 L374.7,352.9 L375.6,353.9 L376.0,355.1 L375.8,356.6 L375.0,357.9 L370.9,360.9 L368.3,364.4 L365.0,367.6 L356.6,374.4 L351.7,380.9 L351.1,382.4 L351.0,383.9 L352.3,388.6 L352.6,392.1 L352.1,394.6 L351.0,396.6 L349.1,398.4 L345.9,399.9 L341.4,401.0 L337.6,401.4Z" fill="rgb(45, 110, 200)" fill-rule="evenodd"/><path d="M371.1,358.7 L369.6,358.6 L368.4,357.9 L367.7,356.9 L367.7,355.6 L368.3,354.4 L369.6,353.4 L371.1,353.0 L372.6,353.1 L373.6,353.5 L374.4,354.3 L374.7,355.1 L374.6,356.1 L373.4,357.8 L371.1,358.7ZM336.4,401.1 L330.1,400.7 L326.1,399.4 L324.1,398.3 L322.4,396.9 L321.3,395.4 L320.7,393.6 L320.6,392.1 L320.9,390.9 L322.5,386.9 L324.6,382.9 L328.9,377.8 L333.1,374.1 L333.9,372.9 L333.6,371.1 L330.9,367.6 L330.0,365.9 L329.8,363.9 L330.4,362.1 L332.2,360.1 L334.9,358.5 L338.4,357.5 L342.1,357.2 L345.1,357.4 L347.9,358.0 L359.1,362.4 L360.0,363.1 L360.5,364.1 L360.5,365.6 L360.0,367.1 L358.6,369.1 L354.4,373.3 L350.4,380.4 L349.5,382.4 L349.4,384.4 L350.7,388.6 L351.1,391.6 L350.9,393.9 L350.2,395.6 L348.4,397.7 L345.6,399.4 L341.4,400.6 L336.4,401.1Z" fill="rgb(63, 146, 215)" fill-rule="evenodd"/><path d="M371.6,357.1 L370.4,357.2 L369.6,356.7 L369.4,355.9 L369.8,355.1 L371.4,354.6 L372.6,355.1 L372.8,356.1 L371.6,357.1ZM336.9,400.6 L333.6,400.6 L330.9,400.3 L327.9,399.4 L325.3,398.1 L323.4,396.6 L322.3,395.1 L321.8,393.4 L321.9,391.4 L323.2,387.4 L324.9,384.6 L330.2,378.4 L335.1,374.7 L336.1,373.4 L336.1,372.4 L335.7,371.4 L332.3,367.6 L331.3,365.9 L331.1,363.9 L332.0,361.9 L334.2,359.9 L337.6,358.5 L341.6,357.9 L345.6,358.3 L349.0,359.4 L355.4,362.4 L357.0,363.9 L357.3,364.9 L357.2,365.9 L356.0,368.4 L351.7,372.9 L350.5,376.9 L348.1,382.4 L348.0,384.9 L349.4,389.4 L349.9,391.9 L349.8,393.6 L349.1,395.4 L347.4,397.4 L344.4,399.1 L341.2,400.1 L336.9,400.6Z" fill="rgb(79, 176, 221)" fill-rule="evenodd"/><path d="M337.1,400.1 L334.1,400.1 L331.4,399.7 L328.6,399.0 L326.2,397.9 L324.5,396.6 L323.4,395.1 L322.9,393.6 L322.9,391.9 L323.7,389.6 L325.4,386.3 L330.8,379.6 L333.1,377.6 L337.4,375.4 L338.6,374.1 L338.6,372.9 L337.9,371.6 L334.0,367.9 L332.7,366.1 L332.4,364.1 L333.0,362.4 L334.9,360.6 L337.9,359.3 L341.4,358.7 L344.9,359.0 L348.5,360.1 L353.5,362.6 L355.0,364.1 L355.3,365.9 L354.2,368.1 L349.8,372.1 L348.6,374.1 L348.3,377.6 L346.7,382.4 L346.4,384.1 L346.7,385.9 L348.7,391.9 L348.7,393.6 L348.2,395.1 L346.6,396.9 L344.1,398.5 L340.9,399.6 L337.1,400.1Z" fill="rgb(91, 194, 209)" fill-rule="evenodd"/><path d="M344.4,373.6 L343.6,373.7 L342.6,373.3 L336.0,368.1 L334.6,366.6 L333.9,365.1 L333.9,363.9 L334.4,362.6 L335.7,361.4 L337.4,360.4 L339.4,359.8 L341.6,359.6 L344.1,359.8 L346.6,360.4 L348.9,361.4 L351.7,362.9 L353.1,364.1 L353.6,365.1 L353.6,366.1 L352.5,368.1 L350.1,370.0 L344.4,373.6ZM335.9,399.6 L330.6,399.0 L328.1,398.2 L326.2,397.1 L324.8,395.9 L324.1,394.6 L323.8,393.1 L324.1,391.4 L327.1,386.3 L331.9,380.4 L333.1,379.2 L336.6,377.4 L342.6,375.5 L343.9,375.5 L345.1,376.5 L345.9,378.1 L345.9,379.9 L344.9,383.6 L344.9,385.1 L345.3,386.9 L347.5,391.4 L347.7,392.9 L347.5,394.4 L346.1,396.4 L343.4,398.1 L339.9,399.2 L335.9,399.6Z" fill="rgb(101, 199, 155)" fill-rule="evenodd"/><path d="M345.4,370.7 L343.9,370.7 L342.1,370.2 L338.9,368.4 L336.9,366.9 L336.1,365.9 L335.7,364.6 L335.8,363.6 L336.5,362.6 L337.6,361.7 L339.1,361.1 L341.1,360.7 L343.1,360.7 L347.1,361.9 L351.1,364.1 L351.7,364.9 L351.9,365.9 L351.1,367.6 L348.6,369.5 L345.4,370.7ZM336.6,399.1 L331.6,398.8 L327.6,397.4 L326.2,396.4 L325.2,395.1 L324.8,393.9 L324.9,392.4 L326.3,389.6 L330.9,384.4 L334.1,380.1 L335.8,379.1 L337.9,378.4 L340.1,378.2 L342.1,378.3 L343.2,378.9 L343.8,379.9 L343.9,381.1 L343.0,384.4 L343.0,385.9 L343.7,387.4 L346.4,391.4 L346.7,392.9 L346.6,394.1 L345.6,395.9 L343.4,397.5 L340.1,398.7 L336.6,399.1Z" fill="rgb(110, 198, 80)" fill-rule="evenodd"/><path d="M346.9,368.4 L344.6,368.5 L342.4,367.6 L340.5,365.9 L340.2,365.1 L340.3,364.4 L341.4,363.5 L343.4,363.3 L345.9,363.6 L348.4,364.6 L349.4,365.6 L349.4,366.6 L348.5,367.6 L346.9,368.4ZM337.6,398.6 L332.9,398.6 L328.9,397.5 L327.4,396.6 L326.3,395.6 L325.8,394.6 L325.6,393.4 L326.1,391.8 L327.4,390.1 L333.4,385.4 L335.0,382.1 L335.8,381.1 L337.6,380.2 L339.6,380.0 L340.9,380.4 L341.4,381.4 L341.3,382.4 L340.1,385.1 L340.2,386.4 L341.0,387.4 L344.7,390.6 L345.5,392.1 L345.7,393.6 L345.0,395.4 L343.4,396.9 L340.9,398.0 L337.6,398.6Z" fill="rgb(121, 199, 62)" fill-rule="evenodd"/><path d="M336.4,398.4 L331.6,398.0 L328.1,396.6 L327.1,395.6 L326.4,394.4 L326.5,393.1 L327.1,391.8 L328.6,390.4 L330.4,389.3 L332.4,388.6 L334.6,388.2 L337.1,388.2 L339.4,388.7 L341.4,389.5 L343.1,390.6 L344.3,391.9 L344.7,393.1 L344.7,394.4 L344.0,395.6 L342.8,396.6 L340.9,397.5 L336.4,398.4Z" fill="rgb(143, 205, 50)" fill-rule="evenodd"/><path d="M338.1,397.9 L333.9,398.0 L329.9,397.1 L328.6,396.4 L327.5,395.4 L327.1,394.4 L327.3,393.1 L328.1,391.9 L329.4,390.9 L332.6,389.7 L337.1,389.5 L340.9,390.4 L342.4,391.3 L343.4,392.4 L343.9,393.5 L343.8,394.6 L343.2,395.6 L341.9,396.6 L340.1,397.4 L338.1,397.9Z" fill="rgb(190, 220, 50)" fill-rule="evenodd"/><path d="M337.6,397.6 L333.9,397.7 L330.3,396.9 L328.2,395.4 L327.8,394.4 L327.9,393.4 L328.6,392.4 L329.9,391.5 L333.4,390.4 L338.1,390.5 L340.1,391.0 L341.6,391.8 L343.0,393.4 L343.1,394.4 L342.8,395.1 L340.9,396.7 L337.6,397.6Z" fill="rgb(228, 228, 53)" fill-rule="evenodd"/><path d="M337.4,397.4 L333.9,397.4 L330.6,396.6 L328.8,395.4 L328.4,394.6 L328.5,393.6 L329.2,392.6 L330.4,391.8 L332.1,391.2 L334.1,390.9 L338.6,391.2 L340.4,391.8 L341.6,392.6 L342.4,394.1 L341.9,395.4 L340.1,396.6 L337.4,397.4Z" fill="rgb(245, 196, 47)" fill-rule="evenodd"/><path d="M336.9,397.1 L333.6,397.1 L330.9,396.4 L329.3,395.1 L329.0,394.4 L329.2,393.6 L329.9,392.8 L331.1,392.0 L334.6,391.4 L338.6,391.8 L340.1,392.3 L341.2,393.1 L341.7,394.4 L341.0,395.6 L339.2,396.6 L336.9,397.1Z" fill="rgb(243, 130, 34)" fill-rule="evenodd"/><path d="M336.4,396.9 L333.6,396.8 L331.3,396.1 L329.8,394.9 L329.9,393.6 L330.6,392.9 L331.6,392.3 L334.9,391.7 L338.4,392.1 L339.6,392.6 L340.6,393.4 L340.9,394.6 L340.2,395.6 L338.6,396.4 L336.4,396.9Z" fill="rgb(227, 45, 26)" fill-rule="evenodd"/></g>
<line x1="349.40" y1="313.90" x2="349.40" y2="427.40" stroke="#1a1a1a" stroke-width="1.0" />
<line x1="291.50" y1="378.40" x2="405.60" y2="378.40" stroke="#1a1a1a" stroke-width="1.0" />
<text x="341.70" y="306.60" font-size="8.8" text-anchor="middle" >G3</text>
<text x="298.70" y="328.10" font-size="8.8" text-anchor="start" >19.7</text>
<text x="378.20" y="328.10" font-size="8.8" text-anchor="start" >14.6</text>
<text x="299.20" y="419.40" font-size="8.8" text-anchor="start" >59.8</text>
<text x="383.70" y="419.40" font-size="8.8" text-anchor="start" >5.92</text>
<line x1="289.50" y1="321.50" x2="291.50" y2="321.50" stroke="#8a8a8a" stroke-width="0.7" />
<line x1="286.90" y1="321.10" x2="288.70" y2="321.10" stroke="#b0b0b0" stroke-width="0.8" />
<line x1="289.50" y1="353.00" x2="291.50" y2="353.00" stroke="#8a8a8a" stroke-width="0.7" />
<line x1="286.90" y1="352.60" x2="288.70" y2="352.60" stroke="#b0b0b0" stroke-width="0.8" />
<line x1="289.50" y1="388.80" x2="291.50" y2="388.80" stroke="#8a8a8a" stroke-width="0.7" />
<line x1="286.90" y1="388.40" x2="288.70" y2="388.40" stroke="#b0b0b0" stroke-width="0.8" />
<line x1="289.50" y1="401.70" x2="291.50" y2="401.70" stroke="#8a8a8a" stroke-width="0.7" />
<line x1="286.90" y1="401.30" x2="288.70" y2="401.30" stroke="#b0b0b0" stroke-width="0.8" />
<line x1="289.50" y1="414.30" x2="291.50" y2="414.30" stroke="#8a8a8a" stroke-width="0.7" />
<line x1="286.90" y1="413.90" x2="288.70" y2="413.90" stroke="#b0b0b0" stroke-width="0.8" />
<line x1="318.50" y1="427.40" x2="318.50" y2="429.20" stroke="#8a8a8a" stroke-width="0.7" />
<line x1="316.90" y1="430.00" x2="318.90" y2="430.00" stroke="#b0b0b0" stroke-width="0.8" />
<line x1="328.00" y1="427.40" x2="328.00" y2="429.20" stroke="#8a8a8a" stroke-width="0.7" />
<line x1="326.40" y1="430.00" x2="328.40" y2="430.00" stroke="#b0b0b0" stroke-width="0.8" />
<line x1="338.50" y1="427.40" x2="338.50" y2="429.20" stroke="#8a8a8a" stroke-width="0.7" />
<line x1="336.90" y1="430.00" x2="338.90" y2="430.00" stroke="#b0b0b0" stroke-width="0.8" />
<line x1="375.50" y1="427.40" x2="375.50" y2="429.20" stroke="#8a8a8a" stroke-width="0.7" />
<line x1="373.90" y1="430.00" x2="375.90" y2="430.00" stroke="#b0b0b0" stroke-width="0.8" />
<line x1="404.70" y1="427.40" x2="404.70" y2="429.20" stroke="#8a8a8a" stroke-width="0.7" />
<line x1="403.10" y1="430.00" x2="405.10" y2="430.00" stroke="#b0b0b0" stroke-width="0.8" />
<circle cx="328.00" cy="428.80" r="0.9" fill="#555"/>
<rect x="412.40" y="313.90" width="114.40" height="113.50" stroke="#c4c4c4" stroke-width="0.8" fill="#fff"/>
<path d="M440.5,364.5 L440.7,363.6 L440.9,362.6 L441.1,361.6 L441.4,360.7 L441.7,359.8 L442.2,358.8 L442.8,357.9 L443.4,356.9 L444.2,356.0 L445.0,355.1 L445.9,354.1 L446.8,353.1 L447.8,352.0 L448.9,350.7 L450.1,349.5 L451.2,348.3 L452.4,347.1 L453.6,346.2 L454.7,345.5 L455.8,344.8 L456.9,344.3 L458.0,343.9 L459.2,343.5 L460.5,343.1 L461.9,342.7 L463.4,342.3 L465.0,342.0 L466.6,341.7 L468.1,341.4 L469.6,341.1 L471.0,340.8 L472.3,340.6 L473.6,340.4 L474.9,340.2 L476.2,340.1 L477.5,340.0 L478.8,339.9 L480.2,339.9 L481.6,340.0 L482.9,340.0 L484.2,340.1 L485.5,340.3 L486.7,340.5 L487.9,340.7 L489.1,341.0 L490.2,341.3 L491.3,341.8 L492.4,342.3 L493.4,343.0 L494.4,343.7 L495.3,344.6 L496.3,345.5 L497.1,346.4 L498.0,347.4 L498.9,348.4 L499.7,349.6 L500.5,350.8 L501.3,352.0 L502.0,353.1 L502.6,354.2 L503.1,355.2 L503.5,356.1 L503.8,357.0 L504.1,358.0 L504.2,358.9 L504.3,359.9 L504.2,361.0 L504.0,362.1 L503.7,363.2 L503.4,364.4 L503.0,365.5 L502.6,366.7 L502.2,367.9 L501.7,369.0 L501.1,370.2 L500.6,371.4 L500.2,372.5 L499.8,373.6 L499.6,374.6 L499.4,375.5 L499.3,376.5 L499.2,377.4 L499.2,378.3 L499.2,379.3 L499.3,380.4 L499.4,381.5 L499.5,382.6 L499.7,383.8 L499.8,385.0 L499.8,386.1 L499.7,387.3 L499.6,388.4 L499.5,389.6 L499.2,390.8 L498.9,391.9 L498.6,392.9 L498.2,393.9 L497.7,394.8 L497.2,395.7 L496.6,396.6 L496.0,397.4 L495.2,398.1 L494.4,398.7 L493.4,399.3 L492.4,399.8 L491.3,400.3 L490.1,400.7 L488.9,401.1 L487.6,401.4 L486.1,401.7 L484.6,402.0 L483.0,402.2 L481.4,402.4 L479.8,402.6 L478.1,402.8 L476.4,403.0 L474.6,403.2 L472.9,403.4 L471.2,403.6 L469.6,403.8 L468.1,404.0 L466.8,404.1 L465.5,404.3 L464.2,404.4 L462.9,404.6 L461.6,404.9 L460.3,405.3 L458.9,405.7 L457.5,406.2 L456.2,406.6 L454.9,407.0 L453.6,407.2 L452.4,407.2 L451.2,407.2 L450.1,407.0 L449.0,406.7 L447.9,406.4 L446.8,406.0 L445.7,405.5 L444.5,404.9 L443.4,404.3 L442.3,403.6 L441.4,402.8 L440.5,402.0 L439.8,401.2 L439.1,400.3 L438.6,399.4 L438.1,398.4 L437.7,397.4 L437.5,396.4 L437.4,395.3 L437.5,394.2 L437.6,393.0 L437.8,391.8 L438.1,390.7 L438.3,389.5 L438.5,388.4 L438.9,387.2 L439.2,386.1 L439.5,385.0 L439.8,383.8 L440.0,382.7 L440.1,381.6 L440.2,380.4 L440.2,379.2 L440.2,378.1 L440.2,377.0 L440.2,375.9 L440.1,374.9 L440.0,373.9 L439.9,373.0 L439.8,372.1 L439.7,371.1 L439.7,370.2 L439.7,369.2 L439.8,368.3 L440.0,367.4 L440.1,366.4 L440.3,365.4Z" fill="rgb(28, 55, 150)"/><g filter="url(#bl)"><path d="M454.6,405.9 L450.9,406.0 L448.1,405.2 L444.9,403.7 L442.6,402.3 L440.6,400.4 L439.5,398.9 L438.4,395.9 L438.4,394.6 L439.3,389.4 L441.0,382.6 L441.3,373.9 L440.8,371.1 L440.9,367.9 L441.9,362.9 L442.9,360.4 L445.4,357.1 L454.1,348.3 L456.1,347.0 L460.1,345.3 L468.4,343.3 L478.4,341.8 L484.4,342.1 L488.4,342.9 L491.4,344.0 L495.1,346.9 L498.6,351.1 L501.9,356.9 L502.7,359.9 L501.4,365.6 L498.7,372.6 L498.1,374.9 L497.8,380.4 L498.5,386.1 L497.9,389.9 L496.5,393.9 L494.3,396.9 L491.6,398.5 L487.6,400.0 L476.1,402.2 L462.4,403.9 L454.6,405.9Z" fill="rgb(32, 67, 165)" fill-rule="evenodd"/><path d="M454.1,405.2 L451.1,405.1 L448.4,404.3 L445.6,403.1 L443.1,401.6 L441.4,400.0 L440.3,398.6 L439.1,395.6 L439.2,393.4 L439.8,389.4 L441.5,382.9 L442.0,373.9 L441.5,370.9 L441.6,368.1 L442.0,365.4 L443.3,361.4 L444.1,359.9 L446.3,357.6 L451.9,353.5 L458.9,351.7 L467.6,350.2 L475.9,347.2 L478.9,347.1 L481.6,348.0 L484.6,349.9 L490.1,354.8 L495.6,359.1 L498.1,361.5 L499.7,363.6 L499.1,367.3 L497.4,372.1 L496.9,374.6 L496.6,380.4 L497.0,385.9 L496.3,389.6 L494.9,393.1 L493.4,395.3 L491.7,396.6 L489.1,398.0 L486.4,399.1 L475.9,401.4 L461.1,403.4 L454.1,405.2Z" fill="rgb(36, 78, 177)" fill-rule="evenodd"/><path d="M454.6,404.4 L451.4,404.3 L448.6,403.6 L445.9,402.5 L443.6,401.1 L441.9,399.6 L440.3,397.4 L439.6,395.6 L439.7,393.4 L440.2,389.6 L442.0,382.6 L442.7,373.9 L442.1,370.4 L442.3,366.6 L443.2,363.1 L443.8,361.6 L444.6,360.3 L447.1,358.2 L450.9,357.0 L458.1,355.9 L468.6,355.5 L470.7,354.9 L474.6,352.9 L476.6,352.4 L478.9,352.4 L480.9,353.1 L482.6,354.2 L484.1,355.6 L487.3,359.9 L489.7,364.6 L491.2,369.6 L492.3,375.9 L492.4,381.4 L491.6,386.6 L489.8,391.1 L486.6,395.9 L484.3,398.1 L483.1,398.8 L479.6,399.9 L475.6,400.8 L460.9,403.0 L454.6,404.4Z" fill="rgb(40, 94, 188)" fill-rule="evenodd"/><path d="M455.4,403.6 L453.6,403.7 L451.2,403.4 L447.8,402.4 L445.5,401.4 L442.3,399.1 L440.8,397.1 L440.1,395.4 L440.7,389.6 L442.4,382.9 L443.3,373.9 L442.6,370.4 L442.6,368.4 L443.0,365.4 L444.0,362.4 L445.0,360.9 L446.4,359.8 L449.9,358.6 L453.6,357.7 L459.9,357.1 L469.4,357.1 L476.9,355.4 L478.9,355.5 L480.6,356.2 L483.1,358.1 L485.3,360.9 L486.9,364.1 L487.8,367.6 L488.7,376.6 L488.8,382.6 L488.0,387.4 L486.4,391.4 L485.0,393.6 L483.1,395.8 L480.9,397.8 L478.8,399.1 L473.4,400.6 L455.4,403.6Z" fill="rgb(45, 110, 200)" fill-rule="evenodd"/><path d="M458.1,402.6 L455.9,402.8 L453.1,402.5 L449.9,401.8 L446.9,400.8 L444.4,399.5 L442.4,398.2 L441.4,397.0 L440.6,395.4 L440.8,391.1 L442.7,383.1 L443.4,378.2 L443.9,376.4 L444.9,374.1 L444.7,372.9 L443.4,370.4 L443.1,368.4 L443.4,365.6 L444.2,363.4 L445.1,361.9 L447.4,360.6 L450.9,359.3 L455.1,358.4 L460.6,358.0 L469.4,358.3 L476.4,357.5 L478.1,357.6 L479.9,358.2 L482.1,359.8 L483.9,361.9 L485.2,364.4 L486.0,367.4 L486.8,376.6 L486.8,381.9 L486.2,386.4 L484.9,390.1 L483.2,392.9 L480.9,395.4 L478.1,397.5 L474.9,399.4 L469.1,400.9 L458.1,402.6Z" fill="rgb(63, 146, 215)" fill-rule="evenodd"/><path d="M459.4,401.9 L453.6,401.6 L448.1,400.3 L444.0,398.1 L442.3,396.6 L441.2,395.1 L441.0,393.6 L441.4,389.9 L442.8,384.9 L443.9,379.4 L446.8,376.1 L447.5,374.6 L447.1,373.1 L444.7,369.6 L444.0,368.1 L444.0,365.9 L444.6,364.1 L446.3,362.4 L448.9,361.0 L452.4,359.8 L456.4,359.1 L460.9,358.8 L468.9,359.2 L475.4,358.9 L477.6,359.2 L479.4,359.9 L481.4,361.2 L482.9,363.0 L484.0,365.1 L484.5,367.6 L485.3,381.4 L484.8,385.6 L483.5,389.1 L481.9,391.9 L479.9,394.1 L477.1,396.4 L473.9,398.3 L468.9,400.4 L459.4,401.9Z" fill="rgb(79, 176, 221)" fill-rule="evenodd"/><path d="M460.1,401.1 L453.6,401.0 L448.4,399.7 L446.1,398.7 L444.3,397.4 L442.9,395.9 L441.9,394.1 L441.6,392.4 L441.9,389.9 L444.1,382.1 L445.9,379.8 L449.5,376.4 L450.2,375.1 L449.7,373.6 L446.8,370.1 L445.7,368.4 L445.3,366.6 L445.6,364.9 L447.0,363.1 L449.4,361.7 L452.6,360.5 L456.6,359.8 L461.4,359.6 L468.6,360.0 L474.4,360.0 L476.6,360.3 L478.4,360.9 L480.1,362.0 L481.4,363.4 L482.4,365.1 L483.0,367.1 L483.1,372.6 L483.9,381.1 L483.5,384.9 L482.4,388.1 L481.0,390.6 L479.0,392.9 L476.4,395.2 L473.0,397.4 L470.1,398.9 L466.9,400.0 L464.3,400.6 L460.1,401.1Z" fill="rgb(91, 194, 209)" fill-rule="evenodd"/><path d="M460.4,400.4 L454.1,400.5 L449.1,399.4 L447.1,398.5 L445.4,397.4 L443.9,395.9 L443.1,394.4 L442.7,392.4 L442.9,389.9 L443.8,387.4 L445.6,383.7 L447.8,380.6 L452.5,376.9 L453.3,375.6 L453.2,374.9 L452.7,374.1 L449.2,370.9 L447.6,368.9 L446.7,366.6 L447.0,364.9 L448.1,363.4 L450.4,362.0 L453.1,361.1 L456.6,360.5 L461.6,360.3 L473.4,361.0 L477.1,361.8 L478.6,362.6 L480.0,363.9 L480.9,365.4 L481.3,366.9 L481.4,368.6 L480.8,373.1 L482.1,378.1 L482.4,381.4 L482.1,384.4 L481.3,387.1 L480.0,389.4 L478.2,391.6 L475.1,394.4 L472.1,396.6 L469.6,398.0 L466.8,399.1 L463.6,399.9 L460.4,400.4Z" fill="rgb(101, 199, 155)" fill-rule="evenodd"/><path d="M459.4,399.9 L453.9,400.0 L449.4,399.0 L446.0,397.1 L444.8,395.9 L444.0,394.4 L443.7,392.1 L444.5,389.4 L446.1,386.6 L449.5,382.1 L451.1,380.6 L453.1,379.2 L460.3,375.9 L454.4,373.0 L450.9,370.6 L449.4,369.0 L448.3,367.4 L448.0,366.1 L448.1,364.9 L449.0,363.6 L450.9,362.5 L453.4,361.6 L456.4,361.2 L461.4,361.1 L472.6,361.9 L476.1,362.7 L478.4,364.4 L479.5,366.6 L479.3,368.9 L477.6,372.4 L477.4,373.6 L477.8,374.9 L479.9,377.8 L480.7,380.1 L480.7,383.4 L479.9,386.5 L478.8,388.4 L477.1,390.4 L473.1,394.4 L470.5,396.4 L468.3,397.6 L465.7,398.6 L459.4,399.9ZM466.8,376.9 L468.0,376.4 L468.7,375.6 L468.6,374.9 L468.1,374.4 L466.9,374.2 L465.1,374.4 L462.1,375.4 L461.3,375.9 L464.5,376.9 L466.8,376.9Z" fill="rgb(110, 198, 80)" fill-rule="evenodd"/><path d="M462.4,372.9 L460.1,373.0 L457.9,372.7 L455.6,372.0 L453.5,370.9 L450.9,368.7 L449.5,367.1 L449.0,365.6 L449.5,364.4 L450.9,363.2 L452.9,362.3 L455.6,361.8 L458.6,361.8 L467.1,362.7 L473.6,363.1 L475.9,364.0 L477.3,365.6 L477.6,367.1 L477.1,368.9 L475.6,371.0 L473.9,372.4 L472.1,372.7 L467.1,372.1 L462.4,372.9ZM458.9,399.4 L455.1,399.6 L451.6,399.2 L448.6,398.2 L446.4,396.8 L444.9,394.9 L444.5,392.9 L445.1,390.6 L446.6,388.3 L448.9,386.0 L453.1,382.4 L455.0,381.1 L456.9,380.3 L460.4,379.6 L465.6,379.8 L467.4,379.7 L468.9,379.1 L472.1,377.1 L473.4,376.7 L474.9,376.8 L476.6,377.8 L478.3,379.9 L478.9,382.4 L478.5,385.1 L476.9,387.8 L471.7,393.9 L469.0,396.1 L464.7,398.1 L458.9,399.4Z" fill="rgb(121, 199, 62)" fill-rule="evenodd"/><path d="M461.9,371.4 L459.6,371.4 L457.4,371.0 L452.6,368.5 L451.3,367.6 L450.4,366.6 L450.1,365.6 L450.4,364.6 L451.5,363.6 L453.1,362.9 L455.4,362.4 L457.9,362.4 L460.6,362.8 L465.9,364.2 L472.9,364.4 L474.5,365.1 L475.4,366.3 L475.5,367.4 L475.1,368.5 L474.4,369.4 L473.1,370.2 L471.4,370.6 L466.9,370.4 L461.9,371.4ZM457.1,399.1 L454.1,399.2 L451.1,398.7 L448.6,397.8 L446.7,396.4 L445.5,394.6 L445.3,392.9 L445.9,391.1 L447.4,389.1 L451.4,386.2 L456.6,384.1 L459.1,383.5 L461.4,383.3 L468.1,384.1 L469.1,383.7 L471.4,381.4 L472.6,380.6 L474.1,380.4 L475.3,381.1 L476.0,382.6 L475.7,384.4 L474.9,385.6 L472.5,387.9 L471.0,392.1 L469.4,394.4 L467.4,396.0 L464.5,397.4 L460.6,398.6 L457.1,399.1Z" fill="rgb(143, 205, 50)" fill-rule="evenodd"/><path d="M460.1,368.9 L456.9,368.8 L453.6,367.9 L451.8,366.6 L451.4,365.9 L451.5,365.1 L452.7,363.9 L455.0,363.1 L457.6,363.0 L460.1,363.6 L461.9,364.9 L462.4,366.6 L461.9,368.2 L460.1,368.9ZM457.9,398.6 L455.1,398.9 L452.4,398.6 L450.1,398.0 L448.1,397.0 L446.7,395.6 L446.0,394.1 L446.1,392.6 L446.7,391.1 L448.6,389.2 L451.1,387.7 L454.1,386.6 L457.1,386.0 L460.4,385.9 L463.4,386.4 L466.1,387.3 L468.1,388.7 L469.0,389.9 L469.2,391.4 L468.7,392.9 L467.6,394.4 L465.6,395.9 L463.0,397.1 L457.9,398.6Z" fill="rgb(190, 220, 50)" fill-rule="evenodd"/><path d="M457.1,367.4 L455.6,367.4 L454.1,366.9 L453.3,366.1 L453.4,365.4 L454.4,364.5 L455.9,364.0 L457.4,364.0 L458.8,364.4 L459.6,365.1 L459.5,366.1 L458.6,367.0 L457.1,367.4ZM456.6,398.4 L454.1,398.5 L451.9,398.1 L449.7,397.4 L448.1,396.4 L447.0,395.1 L446.6,393.9 L446.8,392.4 L447.6,391.1 L449.1,389.8 L451.4,388.6 L454.1,387.8 L456.9,387.4 L459.9,387.4 L462.6,387.9 L464.9,388.8 L466.3,389.9 L466.9,390.9 L467.0,392.1 L466.5,393.4 L465.3,394.6 L461.4,397.1 L459.1,397.9 L456.6,398.4Z" fill="rgb(228, 228, 53)" fill-rule="evenodd"/><path d="M457.4,397.9 L455.1,398.1 L452.9,397.9 L450.9,397.4 L449.2,396.6 L448.1,395.6 L447.4,394.4 L447.3,393.1 L447.8,391.9 L449.0,390.6 L450.6,389.7 L452.6,388.9 L455.1,388.5 L457.6,388.5 L460.1,388.8 L462.4,389.5 L463.8,390.4 L464.5,391.4 L464.7,392.4 L464.4,393.4 L463.5,394.6 L461.0,396.6 L457.4,397.9Z" fill="rgb(245, 196, 47)" fill-rule="evenodd"/><path d="M456.4,397.6 L452.4,397.4 L449.4,396.1 L448.4,395.1 L448.0,394.1 L448.1,392.9 L448.6,391.9 L449.7,390.9 L451.1,390.1 L454.6,389.3 L458.6,389.6 L461.6,390.9 L462.3,391.6 L462.7,392.6 L462.5,393.9 L462.0,394.9 L459.8,396.6 L456.4,397.6Z" fill="rgb(243, 130, 34)" fill-rule="evenodd"/><path d="M456.6,397.1 L453.1,397.1 L450.4,396.1 L449.4,395.4 L448.8,394.4 L448.7,393.4 L449.0,392.4 L450.9,390.8 L453.9,390.0 L457.1,390.1 L459.9,391.1 L461.2,392.6 L461.3,393.6 L461.0,394.6 L459.4,396.2 L456.6,397.1Z" fill="rgb(227, 45, 26)" fill-rule="evenodd"/></g>
<line x1="470.10" y1="313.90" x2="470.10" y2="427.40" stroke="#1a1a1a" stroke-width="1.0" />
<line x1="412.40" y1="378.40" x2="526.80" y2="378.40" stroke="#1a1a1a" stroke-width="1.0" />
<text x="473.00" y="306.60" font-size="8.8" text-anchor="middle" >G4</text>
<text x="419.90" y="328.10" font-size="8.8" text-anchor="start" >25.8</text>
<text x="499.60" y="328.10" font-size="8.8" text-anchor="start" >15.5</text>
<text x="419.90" y="419.40" font-size="8.8" text-anchor="start" >46.6</text>
<text x="504.90" y="419.40" font-size="8.8" text-anchor="start" >12.1</text>
<line x1="410.40" y1="321.50" x2="412.40" y2="321.50" stroke="#8a8a8a" stroke-width="0.7" />
<line x1="407.80" y1="321.10" x2="409.60" y2="321.10" stroke="#b0b0b0" stroke-width="0.8" />
<line x1="410.40" y1="353.00" x2="412.40" y2="353.00" stroke="#8a8a8a" stroke-width="0.7" />
<line x1="407.80" y1="352.60" x2="409.60" y2="352.60" stroke="#b0b0b0" stroke-width="0.8" />
<line x1="410.40" y1="388.80" x2="412.40" y2="388.80" stroke="#8a8a8a" stroke-width="0.7" />
<line x1="407.80" y1="388.40" x2="409.60" y2="388.40" stroke="#b0b0b0" stroke-width="0.8" />
<line x1="410.40" y1="401.70" x2="412.40" y2="401.70" stroke="#8a8a8a" stroke-width="0.7" />
<line x1="407.80" y1="401.30" x2="409.60" y2="401.30" stroke="#b0b0b0" stroke-width="0.8" />
<line x1="410.40" y1="414.30" x2="412.40" y2="414.30" stroke="#8a8a8a" stroke-width="0.7" />
<line x1="407.80" y1="413.90" x2="409.60" y2="413.90" stroke="#b0b0b0" stroke-width="0.8" />
<line x1="439.40" y1="427.40" x2="439.40" y2="429.20" stroke="#8a8a8a" stroke-width="0.7" />
<line x1="437.80" y1="430.00" x2="439.80" y2="430.00" stroke="#b0b0b0" stroke-width="0.8" />
<line x1="448.90" y1="427.40" x2="448.90" y2="429.20" stroke="#8a8a8a" stroke-width="0.7" />
<line x1="447.30" y1="430.00" x2="449.30" y2="430.00" stroke="#b0b0b0" stroke-width="0.8" />
<line x1="459.40" y1="427.40" x2="459.40" y2="429.20" stroke="#8a8a8a" stroke-width="0.7" />
<line x1="457.80" y1="430.00" x2="459.80" y2="430.00" stroke="#b0b0b0" stroke-width="0.8" />
<line x1="496.40" y1="427.40" x2="496.40" y2="429.20" stroke="#8a8a8a" stroke-width="0.7" />
<line x1="494.80" y1="430.00" x2="496.80" y2="430.00" stroke="#b0b0b0" stroke-width="0.8" />
<line x1="525.60" y1="427.40" x2="525.60" y2="429.20" stroke="#8a8a8a" stroke-width="0.7" />
<line x1="524.00" y1="430.00" x2="526.00" y2="430.00" stroke="#b0b0b0" stroke-width="0.8" />
<circle cx="448.90" cy="428.80" r="0.9" fill="#555"/>
<rect x="534.10" y="313.90" width="114.10" height="113.50" stroke="#c4c4c4" stroke-width="0.8" fill="#fff"/>
<path d="M557.0,375.4 L557.1,374.1 L557.1,372.6 L557.2,371.1 L557.3,369.5 L557.4,368.0 L557.6,366.6 L557.8,365.3 L558.0,364.0 L558.3,362.7 L558.6,361.5 L559.0,360.3 L559.5,359.1 L560.1,358.0 L560.9,356.8 L561.7,355.8 L562.6,354.7 L563.6,353.7 L564.6,352.8 L565.7,351.9 L566.9,351.1 L568.1,350.4 L569.4,349.7 L570.7,349.0 L572.1,348.4 L573.5,347.8 L574.9,347.2 L576.4,346.7 L577.9,346.2 L579.4,345.7 L580.9,345.3 L582.4,345.0 L583.8,344.8 L585.3,344.6 L586.8,344.4 L588.2,344.1 L589.7,343.8 L591.2,343.3 L592.6,342.7 L594.1,342.1 L595.6,341.4 L597.0,340.8 L598.5,340.3 L600.0,339.9 L601.4,339.6 L602.9,339.3 L604.4,339.1 L605.8,338.9 L607.2,338.8 L608.5,338.7 L609.8,338.7 L611.0,338.7 L612.2,338.8 L613.5,338.9 L614.8,339.0 L616.2,339.1 L617.7,339.3 L619.3,339.5 L620.8,339.7 L622.3,340.0 L623.6,340.3 L624.8,340.7 L625.9,341.1 L627.0,341.5 L628.0,342.0 L628.9,342.6 L629.8,343.4 L630.6,344.3 L631.4,345.4 L632.1,346.6 L632.7,347.8 L633.2,349.1 L633.6,350.3 L633.8,351.5 L633.8,352.8 L633.7,354.1 L633.6,355.3 L633.3,356.6 L633.0,357.9 L632.6,359.2 L632.2,360.4 L631.7,361.7 L631.1,362.9 L630.5,364.2 L629.8,365.4 L629.1,366.7 L628.3,368.0 L627.4,369.3 L626.5,370.6 L625.7,371.8 L624.8,372.9 L624.0,373.9 L623.2,374.7 L622.4,375.5 L621.6,376.2 L620.7,377.0 L619.8,377.9 L618.8,378.9 L617.8,380.0 L616.7,381.0 L615.6,382.1 L614.6,383.2 L613.5,384.2 L612.4,385.1 L611.3,386.0 L610.1,386.9 L609.0,387.7 L608.0,388.5 L607.2,389.2 L606.6,389.9 L606.2,390.6 L605.9,391.3 L605.6,391.9 L605.2,392.5 L604.7,393.0 L604.0,393.5 L603.3,393.9 L602.4,394.3 L601.6,394.7 L600.6,395.1 L599.7,395.5 L598.7,395.9 L597.7,396.3 L596.7,396.7 L595.6,397.1 L594.5,397.5 L593.4,398.0 L592.2,398.5 L591.0,399.1 L589.8,399.7 L588.5,400.4 L587.2,401.1 L585.9,401.8 L584.5,402.6 L583.0,403.5 L581.4,404.4 L579.9,405.3 L578.4,406.1 L577.1,406.8 L575.9,407.4 L574.8,408.0 L573.8,408.5 L572.8,408.9 L571.8,409.2 L570.8,409.3 L569.8,409.2 L568.7,408.9 L567.7,408.5 L566.7,408.0 L565.6,407.4 L564.6,406.8 L563.5,406.1 L562.4,405.4 L561.2,404.5 L560.1,403.7 L559.1,402.7 L558.3,401.8 L557.6,400.8 L557.1,399.8 L556.6,398.8 L556.3,397.7 L556.0,396.6 L555.8,395.5 L555.7,394.3 L555.8,393.0 L555.9,391.8 L556.1,390.5 L556.3,389.2 L556.4,388.0 L556.5,386.9 L556.6,385.8 L556.7,384.8 L556.8,383.8 L556.9,382.7 L557.0,381.7 L557.0,380.7 L557.0,379.7 L557.0,378.7 L557.0,377.7 L557.0,376.6Z" fill="rgb(28, 55, 150)"/><g filter="url(#bl)"><path d="M571.1,407.7 L569.9,407.6 L567.6,406.5 L561.4,402.1 L559.4,399.7 L557.7,395.9 L557.5,392.1 L558.5,381.6 L558.4,376.4 L559.0,371.1 L559.9,366.6 L561.5,361.4 L564.3,357.1 L566.4,355.1 L568.4,353.6 L575.4,350.0 L582.1,347.8 L590.5,346.1 L598.1,343.0 L602.9,341.6 L610.4,340.7 L618.9,341.1 L625.1,342.5 L628.6,344.4 L630.7,346.9 L631.8,349.1 L632.5,352.4 L632.2,354.9 L631.2,358.9 L628.8,363.9 L626.8,367.1 L622.9,372.4 L613.4,381.7 L606.6,386.9 L605.0,388.4 L602.9,391.5 L591.1,396.6 L585.1,399.9 L579.9,403.4 L575.1,406.2 L572.1,407.5 L571.1,407.7Z" fill="rgb(32, 67, 165)" fill-rule="evenodd"/><path d="M572.1,406.4 L570.1,406.5 L568.6,405.8 L565.6,403.7 L562.1,400.7 L560.0,397.9 L559.0,395.6 L558.8,394.1 L558.6,392.4 L559.4,381.6 L559.3,377.6 L560.1,371.4 L561.4,367.0 L562.8,363.4 L564.1,361.1 L566.1,358.8 L570.9,354.9 L576.1,352.0 L581.6,349.9 L590.9,347.6 L598.6,344.3 L603.1,343.0 L610.1,341.9 L618.6,342.2 L624.1,343.3 L625.9,343.9 L627.9,345.1 L629.9,347.6 L631.2,350.9 L631.5,352.9 L630.9,355.9 L630.1,358.6 L627.8,363.4 L624.8,367.9 L621.8,371.6 L612.5,380.4 L603.9,387.1 L601.6,389.9 L592.4,393.9 L589.6,395.3 L585.9,397.7 L577.6,403.6 L574.1,405.6 L572.1,406.4Z" fill="rgb(36, 78, 177)" fill-rule="evenodd"/><path d="M571.9,405.7 L570.4,405.7 L569.1,405.2 L566.1,402.9 L561.9,398.4 L560.6,396.3 L559.9,394.1 L559.6,388.1 L560.1,381.6 L560.1,376.6 L561.1,371.6 L561.9,368.9 L563.9,365.4 L570.9,358.7 L576.1,355.0 L580.1,353.1 L600.4,345.0 L604.9,343.8 L609.6,343.0 L616.1,342.9 L620.1,343.3 L623.4,343.9 L625.6,344.7 L627.5,345.9 L629.1,347.9 L630.5,351.1 L630.6,352.9 L630.1,355.9 L629.3,358.4 L627.0,362.9 L623.9,367.4 L620.9,371.0 L612.9,378.2 L608.4,381.6 L602.4,385.4 L590.4,391.7 L588.6,393.0 L583.2,398.4 L578.9,401.8 L574.1,404.8 L571.9,405.7Z" fill="rgb(40, 94, 188)" fill-rule="evenodd"/><path d="M572.1,404.9 L570.9,405.0 L569.4,404.5 L566.6,402.1 L563.6,397.3 L561.4,394.5 L560.7,392.6 L560.5,390.9 L560.3,386.1 L560.7,377.4 L561.8,372.4 L563.1,369.2 L567.3,364.6 L572.4,359.8 L577.4,356.5 L596.1,348.3 L604.8,345.1 L609.9,344.0 L613.6,343.8 L618.4,343.9 L624.4,345.1 L626.1,345.9 L627.4,346.8 L628.5,348.4 L629.6,351.1 L629.8,352.9 L629.3,355.6 L628.5,358.1 L626.4,362.1 L624.2,365.4 L621.6,368.4 L616.1,373.3 L608.4,378.8 L601.4,383.0 L591.9,387.7 L589.4,389.2 L586.5,391.9 L582.7,397.1 L581.1,398.9 L576.6,402.6 L573.6,404.3 L572.1,404.9Z" fill="rgb(45, 110, 200)" fill-rule="evenodd"/><path d="M572.4,404.2 L571.1,404.3 L569.9,403.9 L567.6,401.9 L564.4,395.2 L561.9,391.6 L561.1,388.4 L561.4,377.4 L562.4,373.5 L562.9,372.2 L564.0,370.6 L569.1,364.6 L573.4,360.7 L577.9,357.9 L596.1,350.0 L604.4,347.0 L610.9,345.4 L616.1,344.8 L619.9,345.0 L622.9,345.6 L624.9,346.3 L626.6,347.4 L627.7,348.9 L628.6,351.1 L628.8,352.9 L628.4,355.4 L627.6,357.6 L626.1,360.5 L621.9,365.6 L615.9,371.1 L608.6,376.5 L601.6,380.7 L591.4,385.9 L588.6,387.6 L585.1,391.1 L579.5,398.9 L578.1,400.5 L575.4,402.6 L572.4,404.2Z" fill="rgb(63, 146, 215)" fill-rule="evenodd"/><path d="M572.6,403.4 L571.4,403.5 L570.3,403.1 L569.1,402.2 L568.1,400.9 L566.9,398.6 L564.6,392.6 L562.3,388.6 L561.8,386.1 L561.7,383.1 L562.2,377.4 L562.9,375.1 L566.0,370.1 L570.2,365.1 L574.1,361.6 L578.4,359.1 L586.6,355.7 L596.6,351.3 L603.9,348.7 L610.9,347.1 L616.9,346.7 L621.6,347.4 L623.4,348.1 L624.8,349.1 L625.7,350.4 L626.3,352.1 L626.4,353.9 L626.0,355.9 L625.0,358.1 L623.6,360.6 L619.5,365.6 L614.0,370.6 L607.4,375.5 L600.1,379.8 L590.9,384.4 L588.1,386.2 L585.6,388.6 L582.6,392.2 L577.1,400.4 L575.1,402.1 L572.6,403.4Z" fill="rgb(79, 176, 221)" fill-rule="evenodd"/><path d="M573.1,402.4 L571.6,402.5 L570.4,402.0 L569.4,401.1 L568.3,399.6 L567.2,397.1 L565.1,390.8 L563.2,386.4 L562.6,383.4 L562.9,379.1 L564.3,375.4 L567.2,370.4 L570.9,365.9 L574.4,362.7 L578.4,360.3 L586.9,357.0 L596.6,352.7 L602.9,350.5 L609.1,349.1 L614.6,348.6 L618.9,349.2 L620.5,349.9 L621.9,350.9 L622.8,352.1 L623.2,353.4 L623.3,355.1 L622.9,356.9 L621.0,360.9 L617.4,365.4 L612.3,370.1 L606.1,374.6 L599.6,378.5 L590.9,382.8 L587.9,384.9 L585.0,387.6 L581.6,391.6 L576.4,400.0 L574.7,401.6 L573.1,402.4Z" fill="rgb(91, 194, 209)" fill-rule="evenodd"/><path d="M572.9,401.4 L571.6,401.4 L570.4,400.8 L569.2,399.6 L568.2,397.9 L564.6,385.6 L564.1,382.4 L564.5,378.6 L566.0,374.6 L568.4,370.4 L571.7,366.4 L574.9,363.5 L578.4,361.4 L586.9,358.4 L596.0,354.4 L601.9,352.3 L607.4,351.1 L612.4,350.6 L616.1,351.1 L617.6,351.7 L618.9,352.6 L619.7,353.6 L620.1,354.9 L620.2,356.4 L619.8,358.1 L618.1,361.6 L614.8,365.6 L610.5,369.6 L605.1,373.6 L599.2,377.1 L590.9,381.3 L587.6,383.6 L581.4,390.2 L577.5,397.1 L576.1,399.1 L574.6,400.6 L572.9,401.4Z" fill="rgb(101, 199, 155)" fill-rule="evenodd"/><path d="M572.9,400.4 L571.6,400.4 L570.4,399.7 L569.4,398.5 L568.4,396.6 L567.2,392.4 L565.7,384.6 L565.4,382.1 L565.8,378.4 L567.1,374.6 L569.4,370.6 L572.3,366.9 L575.6,364.0 L579.4,362.0 L587.1,359.8 L596.2,355.9 L601.4,354.1 L606.1,353.1 L610.1,352.8 L613.4,353.3 L615.6,354.5 L616.7,356.4 L616.8,357.6 L616.5,359.1 L615.1,362.1 L612.3,365.6 L608.6,369.1 L603.9,372.6 L598.9,375.6 L590.9,379.7 L587.9,381.9 L581.1,388.9 L577.3,396.1 L575.9,398.3 L574.4,399.7 L572.9,400.4Z" fill="rgb(110, 198, 80)" fill-rule="evenodd"/><path d="M572.6,399.4 L571.4,399.2 L570.4,398.5 L569.4,397.1 L568.5,395.1 L567.4,390.1 L566.6,381.6 L567.1,378.1 L568.3,374.6 L570.5,370.6 L573.1,367.1 L576.1,364.5 L580.6,362.3 L583.1,361.6 L588.1,361.1 L593.4,358.8 L600.6,356.4 L604.6,355.6 L608.1,355.3 L610.6,355.8 L612.4,356.8 L613.3,358.4 L613.2,360.1 L612.1,362.0 L609.1,365.9 L605.9,368.9 L602.2,371.6 L598.0,374.1 L591.4,377.5 L588.1,380.0 L580.9,387.7 L579.6,389.8 L577.2,395.1 L575.7,397.4 L574.1,398.9 L572.6,399.4Z" fill="rgb(121, 199, 62)" fill-rule="evenodd"/><path d="M573.4,398.1 L572.1,398.2 L570.9,397.6 L569.9,396.4 L569.1,394.9 L568.0,390.1 L567.7,382.9 L568.1,378.9 L569.2,375.1 L571.2,370.9 L573.8,367.4 L576.6,365.0 L581.9,362.6 L584.9,362.3 L589.1,363.1 L591.9,360.9 L594.1,359.9 L596.1,359.7 L599.4,359.8 L602.4,359.4 L605.4,357.5 L607.4,356.9 L609.4,357.0 L611.0,357.9 L611.5,358.6 L611.6,359.4 L610.6,360.9 L609.4,361.7 L606.9,362.6 L604.6,365.9 L601.7,368.6 L598.0,371.1 L591.9,374.5 L588.9,377.1 L580.6,386.4 L576.4,395.3 L574.9,397.2 L573.4,398.1Z" fill="rgb(143, 205, 50)" fill-rule="evenodd"/><path d="M608.1,360.2 L606.9,360.0 L606.5,359.6 L606.6,359.1 L607.4,358.7 L608.2,358.9 L608.7,359.6 L608.1,360.2ZM595.6,364.2 L594.4,364.2 L593.4,363.9 L592.8,363.1 L593.0,362.4 L595.0,361.4 L596.1,361.4 L596.9,361.7 L597.4,362.4 L597.3,363.1 L596.6,363.8 L595.6,364.2ZM573.1,396.9 L571.6,396.7 L570.2,395.4 L569.2,393.1 L568.6,390.1 L568.5,386.1 L568.8,381.6 L569.4,377.9 L570.6,374.1 L572.9,369.4 L574.3,367.6 L575.9,366.3 L581.4,363.6 L583.6,363.2 L585.4,363.4 L586.3,363.9 L586.9,364.6 L587.2,366.6 L588.4,369.4 L588.6,371.6 L588.0,374.1 L586.9,376.6 L585.2,379.4 L579.9,385.9 L577.2,392.4 L575.9,394.6 L574.6,396.1 L573.1,396.9Z" fill="rgb(190, 220, 50)" fill-rule="evenodd"/><path d="M573.1,395.4 L571.6,395.1 L570.4,393.7 L569.5,391.6 L569.1,388.9 L569.5,383.1 L571.7,373.1 L573.6,369.4 L576.1,366.8 L581.1,364.6 L582.4,364.5 L583.9,364.7 L584.6,365.4 L584.3,367.4 L585.2,369.6 L585.7,371.6 L585.6,374.1 L585.1,376.4 L583.4,379.6 L579.6,384.3 L577.1,390.8 L575.9,393.2 L574.6,394.7 L573.1,395.4Z" fill="rgb(228, 228, 53)" fill-rule="evenodd"/><path d="M573.9,393.4 L572.4,393.4 L571.1,392.7 L570.2,391.1 L569.8,388.9 L570.0,384.6 L571.4,379.1 L572.3,373.6 L573.7,370.4 L575.9,367.8 L578.4,366.5 L581.4,366.2 L582.0,366.6 L582.8,367.9 L583.7,370.1 L584.0,372.9 L583.5,375.6 L582.3,378.4 L579.1,382.7 L577.1,388.9 L576.1,391.2 L575.1,392.6 L573.9,393.4Z" fill="rgb(245, 196, 47)" fill-rule="evenodd"/><path d="M573.9,391.4 L572.4,391.4 L571.5,390.9 L570.9,389.8 L570.5,387.9 L570.9,384.5 L572.6,379.4 L573.1,373.4 L574.1,370.8 L575.9,368.6 L578.0,367.4 L580.1,367.2 L581.6,368.1 L582.6,369.9 L582.9,372.1 L582.5,374.6 L581.3,377.4 L578.1,381.4 L576.9,387.0 L575.9,389.6 L574.9,390.9 L573.9,391.4Z" fill="rgb(243, 130, 34)" fill-rule="evenodd"/><path d="M574.1,389.2 L573.1,389.3 L572.4,389.1 L571.8,388.1 L571.6,386.9 L572.1,383.9 L574.1,380.4 L573.5,375.9 L573.9,373.1 L574.9,370.9 L576.4,369.2 L578.1,368.3 L579.9,368.2 L581.1,369.1 L581.7,370.4 L582.0,372.1 L581.7,374.1 L580.1,377.1 L576.2,380.6 L576.0,381.4 L576.2,384.4 L575.9,386.6 L575.1,388.3 L574.1,389.2Z" fill="rgb(227, 45, 26)" fill-rule="evenodd"/></g>
<line x1="591.30" y1="313.90" x2="591.30" y2="427.40" stroke="#1a1a1a" stroke-width="1.0" />
<line x1="534.10" y1="378.40" x2="648.20" y2="378.40" stroke="#1a1a1a" stroke-width="1.0" />
<text x="590.10" y="306.60" font-size="8.8" text-anchor="middle" >G5</text>
<text x="539.00" y="328.10" font-size="8.8" text-anchor="start" >30.3</text>
<text x="618.60" y="328.10" font-size="8.8" text-anchor="start" >34.4</text>
<text x="539.40" y="419.40" font-size="8.8" text-anchor="start" >31.4</text>
<text x="624.60" y="419.40" font-size="8.8" text-anchor="start" >3.91</text>
<line x1="532.10" y1="321.50" x2="534.10" y2="321.50" stroke="#8a8a8a" stroke-width="0.7" />
<line x1="529.50" y1="321.10" x2="531.30" y2="321.10" stroke="#b0b0b0" stroke-width="0.8" />
<line x1="532.10" y1="353.00" x2="534.10" y2="353.00" stroke="#8a8a8a" stroke-width="0.7" />
<line x1="529.50" y1="352.60" x2="531.30" y2="352.60" stroke="#b0b0b0" stroke-width="0.8" />
<line x1="532.10" y1="388.80" x2="534.10" y2="388.80" stroke="#8a8a8a" stroke-width="0.7" />
<line x1="529.50" y1="388.40" x2="531.30" y2="388.40" stroke="#b0b0b0" stroke-width="0.8" />
<line x1="532.10" y1="401.70" x2="534.10" y2="401.70" stroke="#8a8a8a" stroke-width="0.7" />
<line x1="529.50" y1="401.30" x2="531.30" y2="401.30" stroke="#b0b0b0" stroke-width="0.8" />
<line x1="532.10" y1="414.30" x2="534.10" y2="414.30" stroke="#8a8a8a" stroke-width="0.7" />
<line x1="529.50" y1="413.90" x2="531.30" y2="413.90" stroke="#b0b0b0" stroke-width="0.8" />
<line x1="561.10" y1="427.40" x2="561.10" y2="429.20" stroke="#8a8a8a" stroke-width="0.7" />
<line x1="559.50" y1="430.00" x2="561.50" y2="430.00" stroke="#b0b0b0" stroke-width="0.8" />
<line x1="570.60" y1="427.40" x2="570.60" y2="429.20" stroke="#8a8a8a" stroke-width="0.7" />
<line x1="569.00" y1="430.00" x2="571.00" y2="430.00" stroke="#b0b0b0" stroke-width="0.8" />
<line x1="581.10" y1="427.40" x2="581.10" y2="429.20" stroke="#8a8a8a" stroke-width="0.7" />
<line x1="579.50" y1="430.00" x2="581.50" y2="430.00" stroke="#b0b0b0" stroke-width="0.8" />
<line x1="618.10" y1="427.40" x2="618.10" y2="429.20" stroke="#8a8a8a" stroke-width="0.7" />
<line x1="616.50" y1="430.00" x2="618.50" y2="430.00" stroke="#b0b0b0" stroke-width="0.8" />
<line x1="647.30" y1="427.40" x2="647.30" y2="429.20" stroke="#8a8a8a" stroke-width="0.7" />
<line x1="645.70" y1="430.00" x2="647.70" y2="430.00" stroke="#b0b0b0" stroke-width="0.8" />
<circle cx="570.60" cy="428.80" r="0.9" fill="#555"/>
<line x1="32.80" y1="420.00" x2="32.80" y2="376.00" stroke="#1a1a1a" stroke-width="0.9" />
<polygon points="32.80,372.50 30.80,377.50 34.80,377.50" fill="#1a1a1a"/>
<text x="38.90" y="351.20" font-size="12" text-anchor="middle" transform="rotate(-90 38.90 351.20)" >CD44</text>
<line x1="46.80" y1="438.60" x2="89.00" y2="438.60" stroke="#1a1a1a" stroke-width="0.9" />
<polygon points="93.00,438.60 88.00,436.60 88.00,440.60" fill="#1a1a1a"/>
<text x="101.20" y="445.00" font-size="11.6" text-anchor="start" >CD62L</text>
<text x="2.40" y="464.00" font-size="14" text-anchor="start" >E</text>
<line x1="49.60" y1="469.80" x2="49.60" y2="653.90" stroke="#1a1a1a" stroke-width="1.5" />
<line x1="48.90" y1="653.20" x2="231.50" y2="653.20" stroke="#1a1a1a" stroke-width="1.5" />
<line x1="44.80" y1="470.50" x2="49.60" y2="470.50" stroke="#1a1a1a" stroke-width="1.4" />
<text x="43.00" y="474.40" font-size="10.8" text-anchor="end" >40</text>
<line x1="44.80" y1="516.20" x2="49.60" y2="516.20" stroke="#1a1a1a" stroke-width="1.4" />
<text x="43.00" y="520.10" font-size="10.8" text-anchor="end" >30</text>
<line x1="44.80" y1="561.90" x2="49.60" y2="561.90" stroke="#1a1a1a" stroke-width="1.4" />
<text x="43.00" y="565.80" font-size="10.8" text-anchor="end" >20</text>
<line x1="44.80" y1="607.60" x2="49.60" y2="607.60" stroke="#1a1a1a" stroke-width="1.4" />
<text x="43.00" y="611.50" font-size="10.8" text-anchor="end" >10</text>
<line x1="44.80" y1="653.20" x2="49.60" y2="653.20" stroke="#1a1a1a" stroke-width="1.4" />
<text x="43.00" y="657.10" font-size="10.8" text-anchor="end" >0</text>
<text x="27.10" y="557.50" font-size="11.7" text-anchor="middle" transform="rotate(-90 27.10 557.50)" >Effector memory T cells (%)</text>
<path d="M61.70,653.20 V612.30 H82.90 V653.20" stroke="#000" stroke-width="1.6" fill="none" />
<text x="73.90" y="666.80" font-size="11.6" text-anchor="middle" >G1</text>
<line x1="72.30" y1="599.60" x2="72.30" y2="623.40" stroke="#000" stroke-width="1.5" />
<line x1="66.70" y1="599.60" x2="77.90" y2="599.60" stroke="#000" stroke-width="1.5" />
<line x1="66.70" y1="623.40" x2="77.90" y2="623.40" stroke="#000" stroke-width="1.5" />
<circle cx="72.40" cy="599.40" r="3.5" fill="#000"/>
<circle cx="72.40" cy="611.70" r="3.5" fill="#000"/>
<circle cx="72.40" cy="623.10" r="3.5" fill="#000"/>
<path d="M95.90,653.20 V608.00 H117.10 V653.20" stroke="#3d9aa3" stroke-width="1.6" fill="none" />
<text x="108.10" y="666.80" font-size="11.6" text-anchor="middle" >G2</text>
<line x1="106.50" y1="597.60" x2="106.50" y2="615.50" stroke="#3d9aa3" stroke-width="1.5" />
<line x1="100.90" y1="597.60" x2="112.10" y2="597.60" stroke="#3d9aa3" stroke-width="1.5" />
<line x1="100.90" y1="615.50" x2="112.10" y2="615.50" stroke="#3d9aa3" stroke-width="1.5" />
<circle cx="101.00" cy="600.70" r="3.5" fill="#3d9aa3"/>
<circle cx="112.20" cy="602.40" r="3.5" fill="#3d9aa3"/>
<circle cx="106.40" cy="617.00" r="3.5" fill="#3d9aa3"/>
<path d="M130.30,653.20 V567.30 H151.50 V653.20" stroke="#d4a6a8" stroke-width="1.6" fill="none" />
<text x="142.50" y="666.80" font-size="11.6" text-anchor="middle" >G3</text>
<line x1="140.90" y1="553.10" x2="140.90" y2="579.70" stroke="#d4a6a8" stroke-width="1.5" />
<line x1="135.30" y1="553.10" x2="146.50" y2="553.10" stroke="#d4a6a8" stroke-width="1.5" />
<line x1="135.30" y1="579.70" x2="146.50" y2="579.70" stroke="#d4a6a8" stroke-width="1.5" />
<circle cx="140.70" cy="555.00" r="3.5" fill="#d4a6a8"/>
<circle cx="140.70" cy="563.50" r="3.5" fill="#d4a6a8"/>
<circle cx="140.70" cy="580.70" r="3.5" fill="#d4a6a8"/>
<path d="M164.50,653.20 V566.80 H185.70 V653.20" stroke="#7f88cc" stroke-width="1.6" fill="none" />
<text x="176.70" y="666.80" font-size="11.6" text-anchor="middle" >G4</text>
<line x1="175.10" y1="539.20" x2="175.10" y2="591.90" stroke="#7f88cc" stroke-width="1.5" />
<line x1="169.50" y1="539.20" x2="180.70" y2="539.20" stroke="#7f88cc" stroke-width="1.5" />
<line x1="169.50" y1="591.90" x2="180.70" y2="591.90" stroke="#7f88cc" stroke-width="1.5" />
<circle cx="175.50" cy="535.60" r="3.5" fill="#7f88cc"/>
<circle cx="175.50" cy="575.90" r="3.5" fill="#7f88cc"/>
<circle cx="175.50" cy="586.00" r="3.5" fill="#7f88cc"/>
<path d="M198.70,653.20 V532.90 H219.90 V653.20" stroke="#2f8a3e" stroke-width="1.6" fill="none" />
<text x="210.90" y="666.80" font-size="11.6" text-anchor="middle" >G5</text>
<line x1="209.30" y1="510.20" x2="209.30" y2="554.10" stroke="#2f8a3e" stroke-width="1.5" />
<line x1="203.70" y1="510.20" x2="214.90" y2="510.20" stroke="#2f8a3e" stroke-width="1.5" />
<line x1="203.70" y1="554.10" x2="214.90" y2="554.10" stroke="#2f8a3e" stroke-width="1.5" />
<circle cx="209.50" cy="514.60" r="3.5" fill="#2f8a3e"/>
<circle cx="209.50" cy="524.70" r="3.5" fill="#2f8a3e"/>
<circle cx="209.50" cy="556.80" r="3.5" fill="#2f8a3e"/>
<path d="M72.30,587.00 V478.50 H208.40 V509.00" stroke="#1a1a1a" stroke-width="1.35" fill="none" />
<path d="M140.80,543.30 V492.40 H208.40 V509.00" stroke="#1a1a1a" stroke-width="1.35" fill="none" />
<path d="M174.60,524.70 V503.40 H208.40 V509.00" stroke="#1a1a1a" stroke-width="1.35" fill="none" />
<text x="119.20" y="475.80" font-size="8.6" text-anchor="middle" ><tspan font-style="italic">p</tspan>=0.0003</text>
<text x="151.60" y="489.60" font-size="8.6" text-anchor="middle" ><tspan font-style="italic">p</tspan>=0.0399</text>
<text x="182.60" y="502.10" font-size="8.6" text-anchor="middle" ><tspan font-style="italic">p</tspan>=0.0436</text>
<text x="227.60" y="464.00" font-size="14" text-anchor="start" >F</text>
<line x1="268.40" y1="469.60" x2="268.40" y2="653.90" stroke="#1a1a1a" stroke-width="1.5" />
<line x1="267.70" y1="653.20" x2="452.00" y2="653.20" stroke="#1a1a1a" stroke-width="1.5" />
<line x1="263.60" y1="470.30" x2="268.40" y2="470.30" stroke="#1a1a1a" stroke-width="1.4" />
<text x="262.10" y="474.20" font-size="10.8" text-anchor="end" >50</text>
<line x1="263.60" y1="506.90" x2="268.40" y2="506.90" stroke="#1a1a1a" stroke-width="1.4" />
<text x="262.10" y="510.80" font-size="10.8" text-anchor="end" >40</text>
<line x1="263.60" y1="543.50" x2="268.40" y2="543.50" stroke="#1a1a1a" stroke-width="1.4" />
<text x="262.10" y="547.40" font-size="10.8" text-anchor="end" >30</text>
<line x1="263.60" y1="580.10" x2="268.40" y2="580.10" stroke="#1a1a1a" stroke-width="1.4" />
<text x="262.10" y="584.00" font-size="10.8" text-anchor="end" >20</text>
<line x1="263.60" y1="616.70" x2="268.40" y2="616.70" stroke="#1a1a1a" stroke-width="1.4" />
<text x="262.10" y="620.60" font-size="10.8" text-anchor="end" >10</text>
<line x1="263.60" y1="653.20" x2="268.40" y2="653.20" stroke="#1a1a1a" stroke-width="1.4" />
<text x="262.10" y="657.10" font-size="10.8" text-anchor="end" >0</text>
<text x="245.60" y="562.80" font-size="11.7" text-anchor="middle" transform="rotate(-90 245.60 562.80)" >Central memory T cells (%)</text>
<path d="M280.10,653.20 V626.50 H301.10 V653.20" stroke="#000" stroke-width="1.6" fill="none" />
<text x="292.20" y="666.80" font-size="11.6" text-anchor="middle" >G1</text>
<line x1="290.60" y1="614.90" x2="290.60" y2="636.10" stroke="#000" stroke-width="1.5" />
<line x1="285.00" y1="614.90" x2="296.20" y2="614.90" stroke="#000" stroke-width="1.5" />
<line x1="285.00" y1="636.10" x2="296.20" y2="636.10" stroke="#000" stroke-width="1.5" />
<circle cx="290.40" cy="614.90" r="3.2" fill="#000"/>
<circle cx="290.40" cy="624.00" r="3.2" fill="#000"/>
<circle cx="290.40" cy="636.10" r="3.2" fill="#000"/>
<path d="M314.30,653.20 V629.70 H335.30 V653.20" stroke="#3d9aa3" stroke-width="1.6" fill="none" />
<text x="326.40" y="666.80" font-size="11.6" text-anchor="middle" >G2</text>
<line x1="324.80" y1="622.10" x2="324.80" y2="635.30" stroke="#3d9aa3" stroke-width="1.5" />
<line x1="319.20" y1="622.10" x2="330.40" y2="622.10" stroke="#3d9aa3" stroke-width="1.5" />
<line x1="319.20" y1="635.30" x2="330.40" y2="635.30" stroke="#3d9aa3" stroke-width="1.5" />
<circle cx="324.30" cy="622.10" r="3.2" fill="#3d9aa3"/>
<circle cx="324.30" cy="628.90" r="3.2" fill="#3d9aa3"/>
<circle cx="324.30" cy="635.30" r="3.2" fill="#3d9aa3"/>
<path d="M348.60,653.20 V600.10 H369.60 V653.20" stroke="#d4a6a8" stroke-width="1.6" fill="none" />
<text x="360.70" y="666.80" font-size="11.6" text-anchor="middle" >G3</text>
<line x1="359.10" y1="582.50" x2="359.10" y2="615.40" stroke="#d4a6a8" stroke-width="1.5" />
<line x1="353.50" y1="582.50" x2="364.70" y2="582.50" stroke="#d4a6a8" stroke-width="1.5" />
<line x1="353.50" y1="615.40" x2="364.70" y2="615.40" stroke="#d4a6a8" stroke-width="1.5" />
<circle cx="358.80" cy="582.50" r="3.2" fill="#d4a6a8"/>
<circle cx="358.80" cy="599.80" r="3.2" fill="#d4a6a8"/>
<circle cx="358.80" cy="615.40" r="3.2" fill="#d4a6a8"/>
<path d="M382.70,653.20 V591.20 H403.70 V653.20" stroke="#7f88cc" stroke-width="1.6" fill="none" />
<text x="394.80" y="666.80" font-size="11.6" text-anchor="middle" >G4</text>
<line x1="393.20" y1="579.00" x2="393.20" y2="600.50" stroke="#7f88cc" stroke-width="1.5" />
<line x1="387.60" y1="579.00" x2="398.80" y2="579.00" stroke="#7f88cc" stroke-width="1.5" />
<line x1="387.60" y1="600.50" x2="398.80" y2="600.50" stroke="#7f88cc" stroke-width="1.5" />
<circle cx="393.30" cy="577.70" r="3.2" fill="#7f88cc"/>
<circle cx="387.60" cy="596.20" r="3.2" fill="#7f88cc"/>
<circle cx="398.90" cy="596.20" r="3.2" fill="#7f88cc"/>
<path d="M417.30,653.20 V546.60 H438.30 V653.20" stroke="#9d9d9d" stroke-width="1.6" fill="none" />
<text x="429.40" y="666.80" font-size="11.6" text-anchor="middle" >G5</text>
<line x1="427.80" y1="513.60" x2="427.80" y2="576.80" stroke="#9d9d9d" stroke-width="1.5" />
<line x1="422.20" y1="513.60" x2="433.40" y2="513.60" stroke="#9d9d9d" stroke-width="1.5" />
<line x1="422.20" y1="576.80" x2="433.40" y2="576.80" stroke="#9d9d9d" stroke-width="1.5" />
<circle cx="421.70" cy="527.40" r="3.2" fill="#9d9d9d"/>
<circle cx="433.30" cy="527.40" r="3.2" fill="#9d9d9d"/>
<circle cx="427.60" cy="582.20" r="3.2" fill="#9d9d9d"/>
<line x1="292.20" y1="607.00" x2="320.80" y2="607.00" stroke="#1a1a1a" stroke-width="1.35" />
<path d="M306.80,607.00 V474.50 H428.90 V509.00" stroke="#1a1a1a" stroke-width="1.35" fill="none" />
<path d="M358.60,575.00 V488.60 H428.90 V509.00" stroke="#1a1a1a" stroke-width="1.35" fill="none" />
<path d="M393.20,564.20 V502.30 H428.90 V509.00" stroke="#1a1a1a" stroke-width="1.35" fill="none" />
<text x="332.90" y="470.50" font-size="8.6" text-anchor="middle" ><tspan font-style="italic">p</tspan>=0.0002</text>
<text x="369.30" y="485.70" font-size="8.6" text-anchor="middle" ><tspan font-style="italic">p</tspan>=0.0038</text>
<text x="402.00" y="500.40" font-size="8.6" text-anchor="middle" ><tspan font-style="italic">p</tspan>=0.0109</text>
<text x="452.20" y="464.00" font-size="14" text-anchor="start" >G</text>
<line x1="496.90" y1="466.10" x2="496.90" y2="653.90" stroke="#1a1a1a" stroke-width="1.5" />
<line x1="496.20" y1="653.20" x2="684.00" y2="653.20" stroke="#1a1a1a" stroke-width="1.5" />
<line x1="492.10" y1="466.80" x2="496.90" y2="466.80" stroke="#1a1a1a" stroke-width="1.4" />
<text x="489.10" y="470.70" font-size="11.5" text-anchor="end" >150</text>
<line x1="492.10" y1="528.90" x2="496.90" y2="528.90" stroke="#1a1a1a" stroke-width="1.4" />
<text x="489.10" y="532.80" font-size="11.5" text-anchor="end" >100</text>
<line x1="492.10" y1="591.00" x2="496.90" y2="591.00" stroke="#1a1a1a" stroke-width="1.4" />
<text x="489.10" y="594.90" font-size="11.5" text-anchor="end" >50</text>
<line x1="492.10" y1="653.20" x2="496.90" y2="653.20" stroke="#1a1a1a" stroke-width="1.4" />
<text x="489.10" y="657.10" font-size="11.5" text-anchor="end" >0</text>
<text x="468.50" y="560.20" font-size="11.7" text-anchor="middle" transform="rotate(-90 468.50 560.20)" >Number of lung metastases</text>
<path d="M509.35,653.20 V536.50 H531.85 V653.20" stroke="#000" stroke-width="1.6" fill="none" />
<text x="522.20" y="666.80" font-size="11.6" text-anchor="middle" >G1</text>
<line x1="520.60" y1="524.70" x2="520.60" y2="546.60" stroke="#000" stroke-width="1.5" />
<line x1="515.00" y1="524.70" x2="526.20" y2="524.70" stroke="#000" stroke-width="1.5" />
<line x1="515.00" y1="546.60" x2="526.20" y2="546.60" stroke="#000" stroke-width="1.5" />
<circle cx="520.40" cy="522.20" r="3.4" fill="#000"/>
<circle cx="514.60" cy="531.10" r="3.4" fill="#000"/>
<circle cx="526.30" cy="531.10" r="3.4" fill="#000"/>
<circle cx="520.40" cy="543.20" r="3.4" fill="#000"/>
<circle cx="520.40" cy="550.50" r="3.4" fill="#000"/>
<path d="M544.35,653.20 V541.00 H566.85 V653.20" stroke="#3d9aa3" stroke-width="1.6" fill="none" />
<text x="557.20" y="666.80" font-size="11.6" text-anchor="middle" >G2</text>
<line x1="555.60" y1="523.30" x2="555.60" y2="557.20" stroke="#3d9aa3" stroke-width="1.5" />
<line x1="550.00" y1="523.30" x2="561.20" y2="523.30" stroke="#3d9aa3" stroke-width="1.5" />
<line x1="550.00" y1="557.20" x2="561.20" y2="557.20" stroke="#3d9aa3" stroke-width="1.5" />
<circle cx="555.50" cy="515.40" r="3.4" fill="#3d9aa3"/>
<circle cx="555.50" cy="530.30" r="3.4" fill="#3d9aa3"/>
<circle cx="555.50" cy="546.60" r="3.4" fill="#3d9aa3"/>
<circle cx="561.10" cy="552.70" r="3.4" fill="#3d9aa3"/>
<circle cx="549.90" cy="556.40" r="3.4" fill="#3d9aa3"/>
<path d="M579.25,653.20 V598.60 H601.75 V653.20" stroke="#d4a6a8" stroke-width="1.6" fill="none" />
<text x="592.10" y="666.80" font-size="11.6" text-anchor="middle" >G3</text>
<line x1="590.50" y1="583.80" x2="590.50" y2="611.10" stroke="#d4a6a8" stroke-width="1.5" />
<line x1="584.90" y1="583.80" x2="596.10" y2="583.80" stroke="#d4a6a8" stroke-width="1.5" />
<line x1="584.90" y1="611.10" x2="596.10" y2="611.10" stroke="#d4a6a8" stroke-width="1.5" />
<circle cx="585.20" cy="584.20" r="3.4" fill="#d4a6a8"/>
<circle cx="596.10" cy="585.40" r="3.4" fill="#d4a6a8"/>
<circle cx="584.80" cy="597.20" r="3.4" fill="#d4a6a8"/>
<circle cx="596.10" cy="602.60" r="3.4" fill="#d4a6a8"/>
<circle cx="590.50" cy="617.60" r="3.4" fill="#d4a6a8"/>
<path d="M614.55,653.20 V608.70 H637.05 V653.20" stroke="#7f88cc" stroke-width="1.6" fill="none" />
<text x="627.40" y="666.80" font-size="11.6" text-anchor="middle" >G4</text>
<line x1="625.80" y1="595.10" x2="625.80" y2="621.10" stroke="#7f88cc" stroke-width="1.5" />
<line x1="620.20" y1="595.10" x2="631.40" y2="595.10" stroke="#7f88cc" stroke-width="1.5" />
<line x1="620.20" y1="621.10" x2="631.40" y2="621.10" stroke="#7f88cc" stroke-width="1.5" />
<circle cx="625.80" cy="587.80" r="3.4" fill="#7f88cc"/>
<circle cx="625.80" cy="603.90" r="3.4" fill="#7f88cc"/>
<circle cx="619.90" cy="611.60" r="3.4" fill="#7f88cc"/>
<circle cx="631.10" cy="614.80" r="3.4" fill="#7f88cc"/>
<circle cx="625.80" cy="621.60" r="3.4" fill="#7f88cc"/>
<path d="M649.15,653.20 V639.20 H671.65 V653.20" stroke="#9d9d9d" stroke-width="1.6" fill="none" />
<text x="662.00" y="666.80" font-size="11.6" text-anchor="middle" >G5</text>
<line x1="660.40" y1="628.00" x2="660.40" y2="639.20" stroke="#9d9d9d" stroke-width="1.5" />
<line x1="654.80" y1="628.00" x2="666.00" y2="628.00" stroke="#9d9d9d" stroke-width="1.5" />
<line x1="654.80" y1="639.20" x2="666.00" y2="639.20" stroke="#9d9d9d" stroke-width="1.5" />
<circle cx="660.60" cy="625.10" r="3.4" fill="#9d9d9d"/>
<circle cx="651.50" cy="632.00" r="3.4" fill="#9d9d9d"/>
<circle cx="660.60" cy="635.20" r="3.4" fill="#9d9d9d"/>
<circle cx="669.20" cy="636.30" r="3.4" fill="#9d9d9d"/>
<circle cx="651.50" cy="640.00" r="3.4" fill="#9d9d9d"/>
<line x1="519.10" y1="505.60" x2="551.30" y2="505.60" stroke="#1a1a1a" stroke-width="1.35" />
<path d="M535.30,505.60 V491.90 H660.10 V620.80" stroke="#1a1a1a" stroke-width="1.35" fill="none" />
<path d="M590.10,562.90 V546.50 H660.10 V620.80" stroke="#1a1a1a" stroke-width="1.35" fill="none" />
<path d="M624.70,581.70 V570.40 H660.10 V620.80" stroke="#1a1a1a" stroke-width="1.35" fill="none" />
<text x="583.30" y="485.70" font-size="8.6" text-anchor="middle" ><tspan font-style="italic">p</tspan>&lt;0.0001</text>
<text x="617.80" y="542.00" font-size="8.6" text-anchor="middle" ><tspan font-style="italic">p</tspan>=0.0017</text>
<text x="637.90" y="567.50" font-size="8.6" text-anchor="middle" ><tspan font-style="italic">p</tspan>=0.0301</text>
</svg></body></html>
